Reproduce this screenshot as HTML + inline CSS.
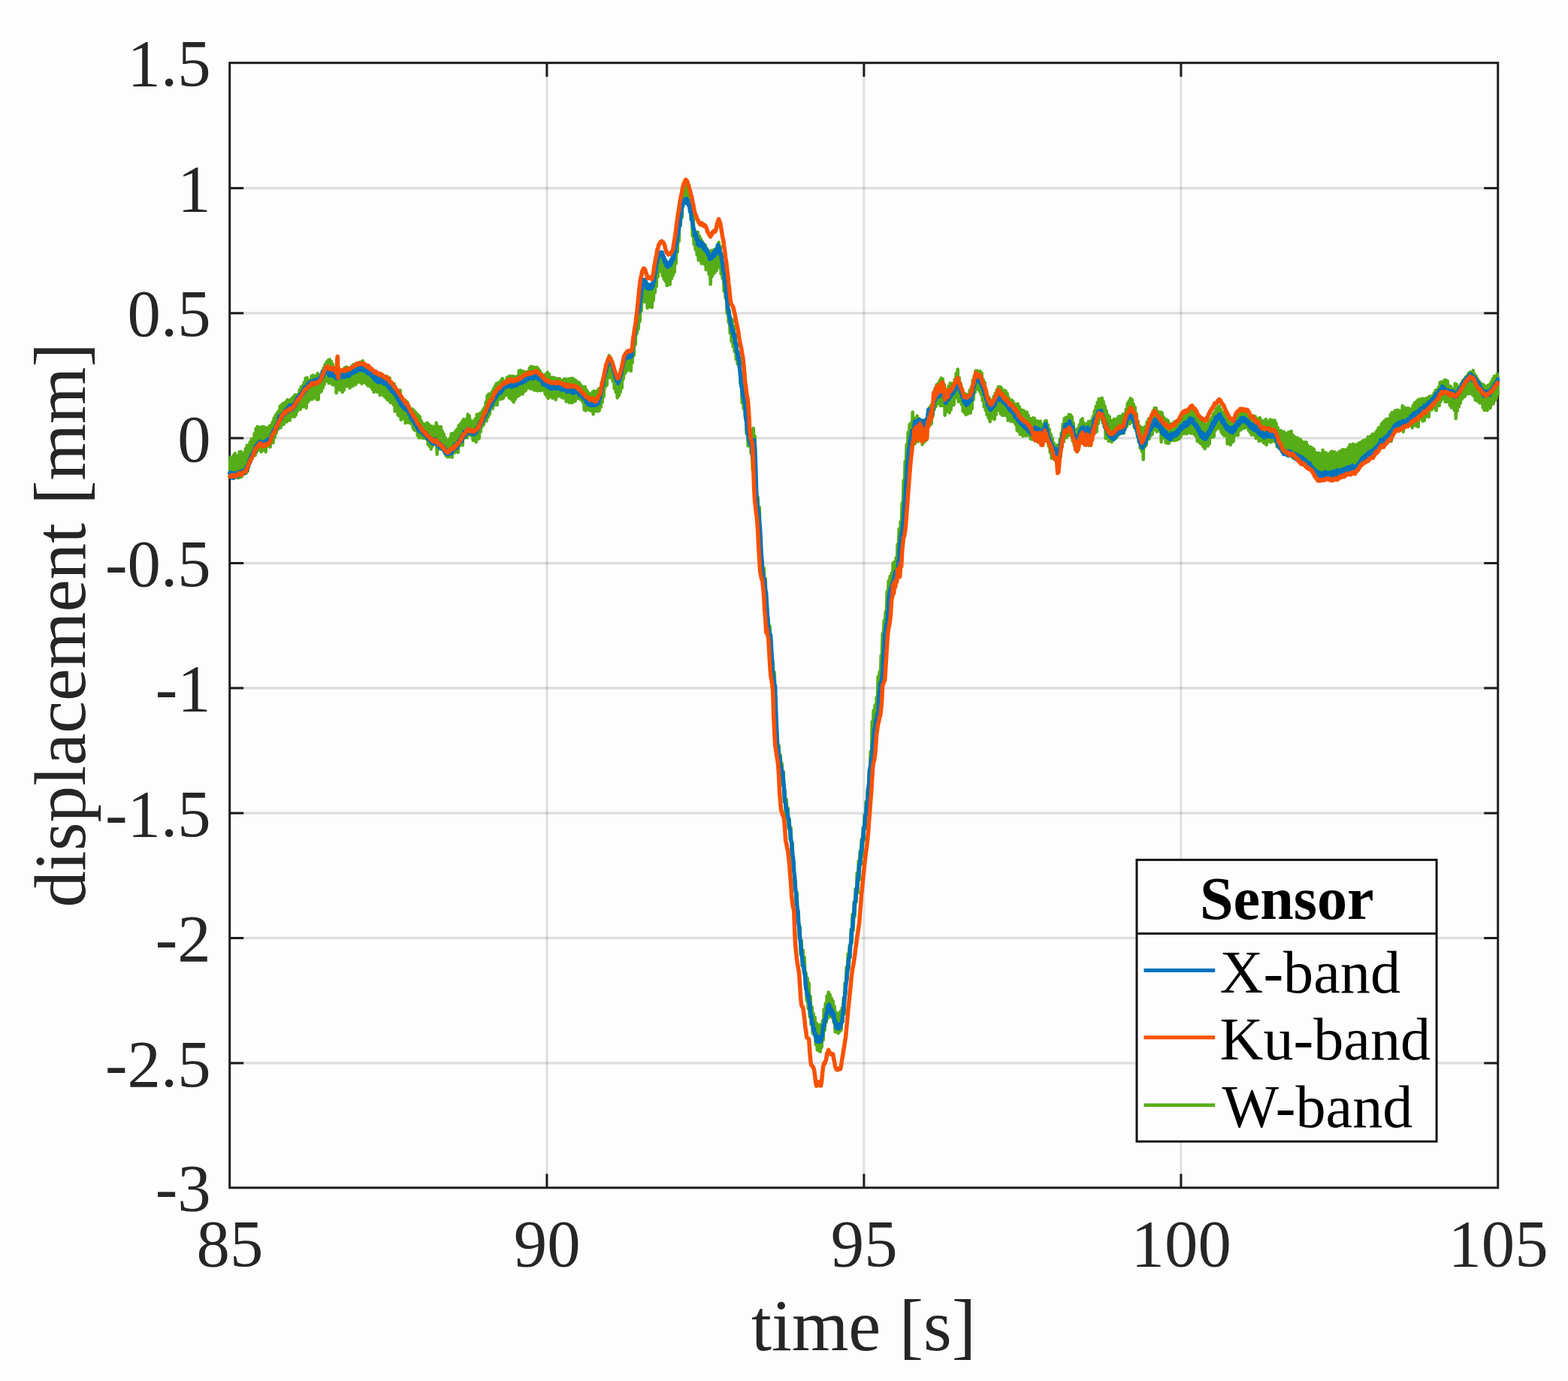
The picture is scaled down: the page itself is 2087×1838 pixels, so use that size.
<!DOCTYPE html>
<html lang="en"><head><meta charset="utf-8"><title>displacement vs time</title>
<style>html,body{margin:0;padding:0;background:#fdfdfd;}body{width:2087px;height:1838px;overflow:hidden;}svg{display:block;}</style>
</head><body>
<svg width="2087" height="1838" viewBox="0 0 2087 1838" role="img" aria-label="displacement versus time for X-band, Ku-band and W-band sensors">
<rect width="2087" height="1838" fill="#fdfdfd"/>
<g stroke="#262626" stroke-opacity="0.14" stroke-width="3.4" fill="none">
<line x1="727.9" y1="83.7" x2="727.9" y2="1580.8" stroke-width="2.9"/>
<line x1="1149.9" y1="83.7" x2="1149.9" y2="1580.8" stroke-width="2.9"/>
<line x1="1571.9" y1="83.7" x2="1571.9" y2="1580.8" stroke-width="2.9"/>
<line x1="305.7" y1="250.4" x2="1993.75" y2="250.4"/>
<line x1="305.7" y1="416.8" x2="1993.75" y2="416.8"/>
<line x1="305.7" y1="583.1" x2="1993.75" y2="583.1"/>
<line x1="305.7" y1="749.5" x2="1993.75" y2="749.5"/>
<line x1="305.7" y1="915.8" x2="1993.75" y2="915.8"/>
<line x1="305.7" y1="1082.2" x2="1993.75" y2="1082.2"/>
<line x1="305.7" y1="1248.5" x2="1993.75" y2="1248.5"/>
<line x1="305.7" y1="1414.9" x2="1993.75" y2="1414.9"/>
</g>
<g stroke="#1c1c1c" stroke-width="3" fill="none">
<rect x="305.7" y="83.7" width="1688.05" height="1497.10"/>
<line x1="727.9" y1="1580.8" x2="727.9" y2="1562.3"/>
<line x1="727.9" y1="83.7" x2="727.9" y2="102.2"/>
<line x1="1149.9" y1="1580.8" x2="1149.9" y2="1562.3"/>
<line x1="1149.9" y1="83.7" x2="1149.9" y2="102.2"/>
<line x1="1571.9" y1="1580.8" x2="1571.9" y2="1562.3"/>
<line x1="1571.9" y1="83.7" x2="1571.9" y2="102.2"/>
<line x1="305.7" y1="250.4" x2="324.2" y2="250.4"/>
<line x1="1993.75" y1="250.4" x2="1975.25" y2="250.4"/>
<line x1="305.7" y1="416.8" x2="324.2" y2="416.8"/>
<line x1="1993.75" y1="416.8" x2="1975.25" y2="416.8"/>
<line x1="305.7" y1="583.1" x2="324.2" y2="583.1"/>
<line x1="1993.75" y1="583.1" x2="1975.25" y2="583.1"/>
<line x1="305.7" y1="749.5" x2="324.2" y2="749.5"/>
<line x1="1993.75" y1="749.5" x2="1975.25" y2="749.5"/>
<line x1="305.7" y1="915.8" x2="324.2" y2="915.8"/>
<line x1="1993.75" y1="915.8" x2="1975.25" y2="915.8"/>
<line x1="305.7" y1="1082.2" x2="324.2" y2="1082.2"/>
<line x1="1993.75" y1="1082.2" x2="1975.25" y2="1082.2"/>
<line x1="305.7" y1="1248.5" x2="324.2" y2="1248.5"/>
<line x1="1993.75" y1="1248.5" x2="1975.25" y2="1248.5"/>
<line x1="305.7" y1="1414.9" x2="324.2" y2="1414.9"/>
<line x1="1993.75" y1="1414.9" x2="1975.25" y2="1414.9"/>
</g>
<clipPath id="c"><rect x="303.2" y="83.7" width="1693.05" height="1497.10"/></clipPath>
<g clip-path="url(#c)" fill="none" stroke-linejoin="round" stroke-linecap="round">
<path stroke="#57ad17" stroke-width="4.5" d="M305.7,631.5 306.7,608.7 307.7,632.2 308.7,609.2 309.7,628.5 310.7,606.3 311.7,632.5 312.7,603.4 313.7,635.1 314.7,606.3 315.7,634.5 316.7,607.3 317.7,635.9 318.7,601.6 319.7,635.1 320.7,600.9 321.7,634.6 322.7,603.1 323.7,629.2 324.7,604.9 325.7,624.4 326.7,597.2 327.7,629.9 328.7,592.8 329.7,627.3 330.7,593.0 331.7,617.2 332.7,588.4 333.7,614.5 334.7,584.2 335.7,610.6 336.7,584.4 337.7,604.6 338.7,577.0 339.7,605.9 340.7,570.4 341.7,601.8 342.7,567.7 343.7,596.1 344.7,568.7 345.7,598.8 346.7,570.5 347.7,601.4 348.7,568.1 349.7,599.5 350.7,568.1 351.7,596.5 352.7,568.9 353.7,601.5 354.7,570.4 355.7,594.1 356.7,569.0 357.7,591.5 358.7,567.0 359.7,595.0 360.7,566.1 361.7,589.6 362.7,561.7 363.7,589.2 364.7,556.4 365.7,582.5 366.7,552.7 367.7,576.4 368.7,549.6 369.7,571.6 370.7,547.2 371.7,569.7 372.7,540.7 373.7,569.1 374.7,538.9 375.7,565.1 376.7,537.1 377.7,564.8 378.7,536.4 379.7,560.2 380.7,534.6 381.7,561.5 382.7,532.0 383.7,557.2 384.7,533.7 385.7,559.6 386.7,532.1 387.7,554.6 388.7,529.9 389.7,550.0 390.7,527.9 391.7,554.8 392.7,525.6 393.7,552.7 394.7,526.4 395.7,547.4 396.7,524.7 397.7,544.0 398.7,519.0 399.7,544.9 400.7,515.0 401.7,540.6 402.7,513.5 403.7,541.4 404.7,508.9 405.7,538.8 406.7,503.4 407.7,542.9 408.7,502.7 409.7,535.2 410.7,506.1 411.7,532.7 412.7,505.8 413.7,528.4 414.7,500.6 415.7,531.5 416.7,499.5 417.7,528.6 418.7,501.6 419.7,529.6 420.7,499.9 421.7,531.6 422.7,497.1 423.7,531.8 424.7,499.8 425.7,522.5 426.7,500.4 427.7,521.0 428.7,494.0 429.7,516.5 430.7,489.7 431.7,512.0 432.7,485.0 433.7,507.5 434.7,481.7 435.7,504.8 436.7,479.5 437.7,510.0 438.7,478.5 439.7,507.8 440.7,480.8 441.7,510.9 442.7,484.4 443.7,512.3 444.7,491.7 445.7,511.9 446.7,489.2 447.7,523.1 448.7,486.6 449.7,513.5 450.7,489.0 451.7,518.9 452.7,494.6 453.7,518.2 454.7,494.1 455.7,521.9 456.7,491.5 457.7,519.5 458.7,489.8 459.7,513.1 460.7,488.5 461.7,514.1 462.7,489.1 463.7,513.5 464.7,490.5 465.7,516.6 466.7,490.4 467.7,512.3 468.7,486.7 469.7,513.8 470.7,485.1 471.7,509.5 472.7,485.1 473.7,511.7 474.7,485.2 475.7,509.0 476.7,484.5 477.7,504.4 478.7,482.5 479.7,509.0 480.7,481.8 481.7,510.7 482.7,480.2 483.7,507.4 484.7,484.6 485.7,509.2 486.7,488.0 487.7,511.0 488.7,486.0 489.7,513.3 490.7,486.4 491.7,513.6 492.7,490.4 493.7,515.3 494.7,492.6 495.7,518.3 496.7,493.0 497.7,521.8 498.7,493.2 499.7,519.2 500.7,496.3 501.7,521.7 502.7,497.8 503.7,521.2 504.7,498.8 505.7,525.8 506.7,499.1 507.7,522.1 508.7,499.7 509.7,525.7 510.7,501.0 511.7,527.7 512.7,501.0 513.7,529.7 514.7,500.7 515.7,532.1 516.7,502.5 517.7,532.8 518.7,503.3 519.7,536.0 520.7,508.9 521.7,534.7 522.7,510.7 523.7,538.7 524.7,510.7 525.7,547.5 526.7,515.1 527.7,546.0 528.7,519.7 529.7,552.5 530.7,519.7 531.7,553.7 532.7,519.6 533.7,558.8 534.7,527.8 535.7,557.4 536.7,532.1 537.7,555.9 538.7,532.6 539.7,563.1 540.7,533.8 541.7,560.3 542.7,535.9 543.7,562.6 544.7,540.7 545.7,562.7 546.7,544.4 547.7,564.2 548.7,544.3 549.7,570.0 550.7,545.9 551.7,572.6 552.7,548.3 553.7,573.0 554.7,550.4 555.7,579.5 556.7,552.6 557.7,582.4 558.7,554.5 559.7,582.5 560.7,560.0 561.7,582.5 562.7,563.4 563.7,583.3 564.7,565.3 565.7,583.0 566.7,564.3 567.7,584.4 568.7,562.8 569.7,591.6 570.7,564.7 571.7,593.8 572.7,566.9 573.7,597.7 574.7,567.3 575.7,593.7 576.7,569.7 577.7,589.5 578.7,567.7 579.7,591.1 580.7,562.8 581.7,604.8 582.7,567.3 583.7,597.7 584.7,571.9 585.7,597.3 586.7,567.9 587.7,598.0 588.7,573.5 589.7,598.3 590.7,577.4 591.7,602.8 592.7,582.6 593.7,606.6 594.7,585.6 595.7,608.2 596.7,586.2 597.7,608.0 598.7,583.5 599.7,605.7 600.7,577.3 601.7,608.6 602.7,577.2 603.7,600.9 604.7,575.9 605.7,602.5 606.7,573.2 607.7,598.8 608.7,571.0 609.7,602.1 610.7,566.5 611.7,593.3 612.7,564.3 613.7,592.1 614.7,561.6 615.7,592.6 616.7,558.3 617.7,583.1 618.7,560.7 619.7,580.1 620.7,557.4 621.7,582.6 622.7,551.5 623.7,578.9 624.7,553.5 625.7,576.4 626.7,559.8 627.7,580.2 628.7,560.4 629.7,586.2 630.7,562.3 631.7,582.2 632.7,557.2 633.7,588.5 634.7,551.6 635.7,584.7 636.7,552.0 637.7,583.6 638.7,550.3 639.7,574.6 640.7,548.9 641.7,567.7 642.7,545.4 643.7,565.5 644.7,542.5 645.7,560.4 646.7,534.9 647.7,560.3 648.7,526.2 649.7,555.1 650.7,524.5 651.7,551.5 652.7,524.1 653.7,543.1 654.7,521.8 655.7,543.8 656.7,517.6 657.7,539.4 658.7,514.0 659.7,535.7 660.7,510.6 661.7,538.9 662.7,510.0 663.7,530.6 664.7,509.0 665.7,531.6 666.7,506.4 667.7,530.6 668.7,503.8 669.7,530.4 670.7,507.0 671.7,526.8 672.7,506.8 673.7,524.3 674.7,502.8 675.7,525.9 676.7,501.4 677.7,529.6 678.7,500.4 679.7,530.8 680.7,500.8 681.7,532.4 682.7,500.8 683.7,535.3 684.7,501.6 685.7,531.6 686.7,501.4 687.7,528.1 688.7,501.1 689.7,527.3 690.7,493.6 691.7,525.8 692.7,492.8 693.7,522.1 694.7,494.1 695.7,524.4 696.7,494.3 697.7,521.1 698.7,495.6 699.7,519.9 700.7,494.7 701.7,516.6 702.7,494.9 703.7,513.4 704.7,489.9 705.7,517.2 706.7,487.8 707.7,517.0 708.7,488.3 709.7,517.8 710.7,488.8 711.7,519.6 712.7,489.2 713.7,514.5 714.7,488.8 715.7,520.3 716.7,490.8 717.7,519.2 718.7,493.4 719.7,520.1 720.7,497.2 721.7,517.3 722.7,500.2 723.7,519.7 724.7,499.2 725.7,524.6 726.7,497.8 727.7,527.0 728.7,495.6 729.7,530.3 730.7,497.7 731.7,526.4 732.7,502.8 733.7,528.2 734.7,502.3 735.7,530.0 736.7,502.7 737.7,527.5 738.7,502.9 739.7,531.9 740.7,504.9 741.7,525.7 742.7,504.0 743.7,527.5 744.7,504.0 745.7,525.6 746.7,506.0 747.7,528.8 748.7,506.1 749.7,529.7 750.7,504.5 751.7,529.1 752.7,504.4 753.7,534.4 754.7,505.1 755.7,531.2 756.7,504.6 757.7,535.7 758.7,504.3 759.7,535.4 760.7,503.4 761.7,536.1 762.7,503.8 763.7,533.1 764.7,505.4 765.7,534.0 766.7,506.6 767.7,529.4 768.7,508.7 769.7,530.3 770.7,508.9 771.7,531.1 772.7,512.0 773.7,532.4 774.7,514.2 775.7,535.4 776.7,515.9 777.7,545.5 778.7,514.8 779.7,546.5 780.7,518.7 781.7,542.2 782.7,522.0 783.7,545.5 784.7,524.1 785.7,546.5 786.7,525.8 787.7,547.1 788.7,521.8 789.7,551.3 790.7,520.5 791.7,546.9 792.7,521.0 793.7,546.9 794.7,520.6 795.7,547.3 796.7,517.6 797.7,546.4 798.7,516.7 799.7,541.9 800.7,509.1 801.7,535.8 802.7,502.8 803.7,527.9 804.7,497.1 805.7,514.9 806.7,486.3 807.7,512.7 808.7,478.2 809.7,502.6 810.7,473.2 811.7,502.6 812.7,476.9 813.7,503.0 814.7,481.6 815.7,507.3 816.7,487.9 817.7,516.8 818.7,494.8 819.7,521.8 820.7,500.3 821.7,529.4 822.7,501.7 823.7,526.6 824.7,496.8 825.7,522.0 826.7,491.9 827.7,516.5 828.7,485.0 829.7,504.2 830.7,475.7 831.7,497.3 832.7,471.4 833.7,494.3 834.7,471.2 835.7,492.4 836.7,471.6 837.7,492.2 838.7,469.7 839.7,493.8 840.7,468.2 841.7,482.6 842.7,450.2 843.7,473.3 844.7,436.8 845.7,458.8 846.7,422.9 847.7,443.9 848.7,412.9 849.7,437.9 850.7,409.9 851.7,427.7 852.7,396.1 853.7,413.6 854.7,382.0 855.7,399.7 856.7,373.6 857.7,401.4 858.7,376.5 859.7,401.5 860.7,379.6 861.7,410.0 862.7,380.8 863.7,408.2 864.7,379.4 865.7,408.3 866.7,378.6 867.7,409.2 868.7,379.5 869.7,400.0 870.7,372.5 871.7,389.5 872.7,358.9 873.7,381.4 874.7,346.6 875.7,368.3 876.7,338.4 877.7,361.2 878.7,338.3 879.7,358.5 880.7,336.7 881.7,366.9 882.7,340.2 883.7,371.6 884.7,347.6 885.7,374.3 886.7,350.0 887.7,380.1 888.7,354.2 889.7,377.9 890.7,351.0 891.7,378.8 892.7,346.3 893.7,371.1 894.7,344.3 895.7,366.7 896.7,338.2 897.7,362.3 898.7,327.2 899.7,350.8 900.7,313.9 901.7,335.8 902.7,296.7 903.7,321.2 904.7,279.3 905.7,300.4 906.7,265.8 907.7,289.4 908.7,255.4 909.7,271.3 910.7,248.3 911.7,265.0 912.7,240.5 913.7,262.6 914.7,243.1 915.7,271.4 916.7,248.4 917.7,278.4 918.7,259.0 919.7,292.6 920.7,270.8 921.7,314.3 922.7,288.8 923.7,325.2 924.7,308.4 925.7,332.3 926.7,309.9 927.7,339.1 928.7,308.8 929.7,346.2 930.7,313.9 931.7,346.5 932.7,317.5 933.7,350.7 934.7,321.2 935.7,350.0 936.7,325.7 937.7,352.0 938.7,326.0 939.7,359.0 940.7,330.7 941.7,357.9 942.7,336.7 943.7,365.0 944.7,336.7 945.7,378.4 946.7,333.4 947.7,368.1 948.7,333.5 949.7,364.4 950.7,332.0 951.7,362.4 952.7,333.8 953.7,360.1 954.7,326.1 955.7,349.6 956.7,322.5 957.7,355.4 958.7,327.9 959.7,364.8 960.7,338.8 961.7,370.6 962.7,351.4 963.7,387.6 964.7,365.6 965.7,397.0 966.7,378.4 967.7,417.0 968.7,396.8 969.7,428.9 970.7,412.8 971.7,443.1 972.7,422.9 973.7,454.6 974.7,425.8 975.7,461.2 976.7,434.1 977.7,467.8 978.7,444.0 979.7,477.9 980.7,457.2 981.7,484.5 982.7,468.3 983.7,488.5 984.7,482.6 985.7,511.5 986.7,496.3 987.7,536.1 988.7,509.4 989.7,543.9 990.7,518.5 991.7,553.9 992.7,538.5 993.7,577.4 994.7,560.6 995.7,593.5 996.7,568.8 997.7,592.3 998.7,572.4 999.7,603.3 1000.7,576.5 1001.7,625.5 1002.7,570.0 1003.7,597.4 1004.7,580.6 1005.7,631.8 1006.7,638.3 1007.7,680.3 1008.7,662.0 1009.7,693.9 1010.7,674.9 1011.7,718.3 1012.7,711.2 1013.7,752.7 1014.7,746.3 1015.7,778.1 1016.7,755.9 1017.7,788.6 1018.7,770.1 1019.7,804.6 1020.7,797.4 1021.7,836.1 1022.7,823.3 1023.7,857.0 1024.7,833.3 1025.7,860.9 1026.7,852.3 1027.7,892.7 1028.7,881.2 1029.7,912.8 1030.7,894.8 1031.7,924.9 1032.7,932.4 1033.7,979.2 1034.7,979.0 1035.7,1006.5 1036.7,992.3 1037.7,1020.7 1038.7,1005.1 1039.7,1032.2 1040.7,1016.1 1041.7,1045.1 1042.7,1027.0 1043.7,1066.7 1044.7,1052.5 1045.7,1087.2 1046.7,1064.1 1047.7,1090.7 1048.7,1075.5 1049.7,1102.3 1050.7,1090.6 1051.7,1117.2 1052.7,1101.8 1053.7,1141.7 1054.7,1121.4 1055.7,1154.3 1056.7,1147.7 1057.7,1181.2 1058.7,1172.8 1059.7,1202.4 1060.7,1187.6 1061.7,1224.6 1062.7,1212.6 1063.7,1248.1 1064.7,1233.0 1065.7,1269.9 1066.7,1251.8 1067.7,1285.4 1068.7,1264.4 1069.7,1294.1 1070.7,1274.0 1071.7,1310.3 1072.7,1295.1 1073.7,1331.5 1074.7,1301.7 1075.7,1342.3 1076.7,1308.6 1077.7,1353.2 1078.7,1325.9 1079.7,1363.4 1080.7,1340.2 1081.7,1375.0 1082.7,1349.1 1083.7,1377.1 1084.7,1354.0 1085.7,1390.0 1086.7,1361.8 1087.7,1397.1 1088.7,1364.8 1089.7,1398.6 1090.7,1364.1 1091.7,1399.6 1092.7,1368.5 1093.7,1394.0 1094.7,1359.1 1095.7,1384.2 1096.7,1343.4 1097.7,1371.2 1098.7,1335.8 1099.7,1360.7 1100.7,1325.4 1101.7,1355.2 1102.7,1320.6 1103.7,1349.3 1104.7,1323.9 1105.7,1353.1 1106.7,1328.4 1107.7,1354.3 1108.7,1332.2 1109.7,1360.7 1110.7,1339.4 1111.7,1373.4 1112.7,1347.6 1113.7,1371.8 1114.7,1350.2 1115.7,1375.3 1116.7,1348.4 1117.7,1372.9 1118.7,1346.0 1119.7,1371.0 1120.7,1341.5 1121.7,1359.7 1122.7,1327.8 1123.7,1349.5 1124.7,1308.1 1125.7,1322.8 1126.7,1287.0 1127.7,1303.0 1128.7,1269.6 1129.7,1288.6 1130.7,1258.8 1131.7,1274.1 1132.7,1236.9 1133.7,1255.2 1134.7,1216.9 1135.7,1238.2 1136.7,1200.5 1137.7,1219.5 1138.7,1182.7 1139.7,1200.8 1140.7,1162.1 1141.7,1188.5 1142.7,1146.0 1143.7,1171.3 1144.7,1132.8 1145.7,1150.7 1146.7,1116.7 1147.7,1140.0 1148.7,1101.2 1149.7,1118.9 1150.7,1084.7 1151.7,1103.3 1152.7,1066.9 1153.7,1082.2 1154.7,1050.5 1155.7,1064.2 1156.7,1025.5 1157.7,1041.6 1158.7,1000.2 1159.7,1031.2 1160.7,960.4 1161.7,983.3 1162.7,945.6 1163.7,967.7 1164.7,938.6 1165.7,963.8 1166.7,928.3 1167.7,939.8 1168.7,900.4 1169.7,923.5 1170.7,893.9 1171.7,916.1 1172.7,872.4 1173.7,878.9 1174.7,843.1 1175.7,851.9 1176.7,825.8 1177.7,841.6 1178.7,814.0 1179.7,822.9 1180.7,787.5 1181.7,799.4 1182.7,773.0 1183.7,800.3 1184.7,767.1 1185.7,793.9 1186.7,762.8 1187.7,780.9 1188.7,749.5 1189.7,774.4 1190.7,747.8 1191.7,776.5 1192.7,742.2 1193.7,757.8 1194.7,724.4 1195.7,730.8 1196.7,704.1 1197.7,726.3 1198.7,694.3 1199.7,705.9 1200.7,669.5 1201.7,679.3 1202.7,639.2 1203.7,657.9 1204.7,613.9 1205.7,626.9 1206.7,591.7 1207.7,611.3 1208.7,575.6 1209.7,598.0 1210.7,564.7 1211.7,593.3 1212.7,563.0 1213.7,583.0 1214.7,548.5 1215.7,579.8 1216.7,558.4 1217.7,590.7 1218.7,556.4 1219.7,587.6 1220.7,553.6 1221.7,587.7 1222.7,556.9 1223.7,583.9 1224.7,559.1 1225.7,586.2 1226.7,560.1 1227.7,591.8 1228.7,560.2 1229.7,588.5 1230.7,559.9 1231.7,587.0 1232.7,557.7 1233.7,585.1 1234.7,550.4 1235.7,567.6 1236.7,543.0 1237.7,565.6 1238.7,540.1 1239.7,564.2 1240.7,536.8 1241.7,553.7 1242.7,521.7 1243.7,544.9 1244.7,516.9 1245.7,541.0 1246.7,512.1 1247.7,537.5 1248.7,510.3 1249.7,536.1 1250.7,506.5 1251.7,539.9 1252.7,503.3 1253.7,539.9 1254.7,504.4 1255.7,539.2 1256.7,511.4 1257.7,552.8 1258.7,520.6 1259.7,548.0 1260.7,518.6 1261.7,545.4 1262.7,513.9 1263.7,549.4 1264.7,509.9 1265.7,545.4 1266.7,510.9 1267.7,539.5 1268.7,510.5 1269.7,538.7 1270.7,504.9 1271.7,529.4 1272.7,496.8 1273.7,527.0 1274.7,491.4 1275.7,534.6 1276.7,502.7 1277.7,532.4 1278.7,510.3 1279.7,538.1 1280.7,517.5 1281.7,547.3 1282.7,524.8 1283.7,549.2 1284.7,524.3 1285.7,551.9 1286.7,525.1 1287.7,551.1 1288.7,525.7 1289.7,546.6 1290.7,519.2 1291.7,549.7 1292.7,515.5 1293.7,544.5 1294.7,506.3 1295.7,532.2 1296.7,500.3 1297.7,522.3 1298.7,493.5 1299.7,515.1 1300.7,493.4 1301.7,518.1 1302.7,496.3 1303.7,520.8 1304.7,494.1 1305.7,525.0 1306.7,496.6 1307.7,533.0 1308.7,505.1 1309.7,541.2 1310.7,509.1 1311.7,546.0 1312.7,518.6 1313.7,552.1 1314.7,527.3 1315.7,556.3 1316.7,529.5 1317.7,561.2 1318.7,533.2 1319.7,557.3 1320.7,532.6 1321.7,554.3 1322.7,527.6 1323.7,558.2 1324.7,523.5 1325.7,552.0 1326.7,519.1 1327.7,543.1 1328.7,514.9 1329.7,546.3 1330.7,514.7 1331.7,550.4 1332.7,516.0 1333.7,552.5 1334.7,519.5 1335.7,553.0 1336.7,519.6 1337.7,552.1 1338.7,520.6 1339.7,553.4 1340.7,524.0 1341.7,559.7 1342.7,529.5 1343.7,557.4 1344.7,533.2 1345.7,560.7 1346.7,532.4 1347.7,560.5 1348.7,534.7 1349.7,561.5 1350.7,538.0 1351.7,564.7 1352.7,538.1 1353.7,573.0 1354.7,537.4 1355.7,573.9 1356.7,541.3 1357.7,578.1 1358.7,545.2 1359.7,575.3 1360.7,546.1 1361.7,580.6 1362.7,546.4 1363.7,579.3 1364.7,550.1 1365.7,579.8 1366.7,548.5 1367.7,579.5 1368.7,553.1 1369.7,579.3 1370.7,557.0 1371.7,584.0 1372.7,559.6 1373.7,585.0 1374.7,556.3 1375.7,584.1 1376.7,556.5 1377.7,584.1 1378.7,560.1 1379.7,583.2 1380.7,560.4 1381.7,588.4 1382.7,561.5 1383.7,586.8 1384.7,560.4 1385.7,592.4 1386.7,564.8 1387.7,591.0 1388.7,567.0 1389.7,584.6 1390.7,560.4 1391.7,578.9 1392.7,559.9 1393.7,587.5 1394.7,565.6 1395.7,593.7 1396.7,571.4 1397.7,601.9 1398.7,578.1 1399.7,610.0 1400.7,583.2 1401.7,609.3 1402.7,589.8 1403.7,612.1 1404.7,593.1 1405.7,611.9 1406.7,592.5 1407.7,619.2 1408.7,602.2 1409.7,615.7 1410.7,584.8 1411.7,608.0 1412.7,576.3 1413.7,595.2 1414.7,564.4 1415.7,588.3 1416.7,556.9 1417.7,579.4 1418.7,555.5 1419.7,582.4 1420.7,556.1 1421.7,578.8 1422.7,551.7 1423.7,579.2 1424.7,552.0 1425.7,579.8 1426.7,554.4 1427.7,586.9 1428.7,563.1 1429.7,592.4 1430.7,571.9 1431.7,599.5 1432.7,572.4 1433.7,601.0 1434.7,570.0 1435.7,598.6 1436.7,565.3 1437.7,590.3 1438.7,559.1 1439.7,588.9 1440.7,557.3 1441.7,585.0 1442.7,562.9 1443.7,590.1 1444.7,568.8 1445.7,590.3 1446.7,564.0 1447.7,582.8 1448.7,561.1 1449.7,593.1 1450.7,563.8 1451.7,592.8 1452.7,559.6 1453.7,582.1 1454.7,554.3 1455.7,576.7 1456.7,547.1 1457.7,575.8 1458.7,541.1 1459.7,574.6 1460.7,535.4 1461.7,564.0 1462.7,530.8 1463.7,557.7 1464.7,532.1 1465.7,558.0 1466.7,529.7 1467.7,562.8 1468.7,534.6 1469.7,568.0 1470.7,540.8 1471.7,583.4 1472.7,546.7 1473.7,581.4 1474.7,552.3 1475.7,587.1 1476.7,554.6 1477.7,586.9 1478.7,560.1 1479.7,588.3 1480.7,561.2 1481.7,584.0 1482.7,557.8 1483.7,582.5 1484.7,559.8 1485.7,582.9 1486.7,557.6 1487.7,580.5 1488.7,554.5 1489.7,576.0 1490.7,554.1 1491.7,577.2 1492.7,554.1 1493.7,575.7 1494.7,551.2 1495.7,576.7 1496.7,551.8 1497.7,570.4 1498.7,545.1 1499.7,567.8 1500.7,537.0 1501.7,557.7 1502.7,533.4 1503.7,563.9 1504.7,530.3 1505.7,557.8 1506.7,531.9 1507.7,562.3 1508.7,537.7 1509.7,569.0 1510.7,542.1 1511.7,570.0 1512.7,550.8 1513.7,577.9 1514.7,560.5 1515.7,587.8 1516.7,566.7 1517.7,596.3 1518.7,568.8 1519.7,600.5 1520.7,569.9 1521.7,611.6 1522.7,568.9 1523.7,595.0 1524.7,567.6 1525.7,592.4 1526.7,561.4 1527.7,585.0 1528.7,557.7 1529.7,583.9 1530.7,557.7 1531.7,579.7 1532.7,551.5 1533.7,578.3 1534.7,546.7 1535.7,568.5 1536.7,543.2 1537.7,572.0 1538.7,543.0 1539.7,574.6 1540.7,547.3 1541.7,571.6 1542.7,549.7 1543.7,573.9 1544.7,548.6 1545.7,588.2 1546.7,549.5 1547.7,581.9 1548.7,555.3 1549.7,582.8 1550.7,557.6 1551.7,589.1 1552.7,558.6 1553.7,589.7 1554.7,560.1 1555.7,590.1 1556.7,564.1 1557.7,586.9 1558.7,564.8 1559.7,585.9 1560.7,564.4 1561.7,585.9 1562.7,561.6 1563.7,586.3 1564.7,561.1 1565.7,585.8 1566.7,560.0 1567.7,584.8 1568.7,557.9 1569.7,583.9 1570.7,555.1 1571.7,581.2 1572.7,550.5 1573.7,575.7 1574.7,549.2 1575.7,577.3 1576.7,550.5 1577.7,574.9 1578.7,549.6 1579.7,577.4 1580.7,546.5 1581.7,573.5 1582.7,547.0 1583.7,575.8 1584.7,544.2 1585.7,576.7 1586.7,544.7 1587.7,573.7 1588.7,549.6 1589.7,578.3 1590.7,550.4 1591.7,580.3 1592.7,550.7 1593.7,587.1 1594.7,555.1 1595.7,588.1 1596.7,557.0 1597.7,589.9 1598.7,561.5 1599.7,591.3 1600.7,561.9 1601.7,594.6 1602.7,561.4 1603.7,597.2 1604.7,565.4 1605.7,592.0 1606.7,564.7 1607.7,593.6 1608.7,558.6 1609.7,590.6 1610.7,560.1 1611.7,581.5 1612.7,555.9 1613.7,581.8 1614.7,551.6 1615.7,581.3 1616.7,549.1 1617.7,572.7 1618.7,544.5 1619.7,570.5 1620.7,542.1 1621.7,568.1 1622.7,540.6 1623.7,570.8 1624.7,544.2 1625.7,575.4 1626.7,547.8 1627.7,577.9 1628.7,548.7 1629.7,579.9 1630.7,554.1 1631.7,579.7 1632.7,555.6 1633.7,590.8 1634.7,556.4 1635.7,587.2 1636.7,559.3 1637.7,592.2 1638.7,562.9 1639.7,589.0 1640.7,564.4 1641.7,587.3 1642.7,560.3 1643.7,579.8 1644.7,557.3 1645.7,578.3 1646.7,551.1 1647.7,579.3 1648.7,547.9 1649.7,572.6 1650.7,548.5 1651.7,572.2 1652.7,546.9 1653.7,569.9 1654.7,549.2 1655.7,569.9 1656.7,545.4 1657.7,569.0 1658.7,547.1 1659.7,568.8 1660.7,549.4 1661.7,572.7 1662.7,553.3 1663.7,575.4 1664.7,554.7 1665.7,578.8 1666.7,553.2 1667.7,576.2 1668.7,553.8 1669.7,579.2 1670.7,554.3 1671.7,583.3 1672.7,556.9 1673.7,582.2 1674.7,558.0 1675.7,587.1 1676.7,555.9 1677.7,586.4 1678.7,559.2 1679.7,583.9 1680.7,562.5 1681.7,589.2 1682.7,560.3 1683.7,590.1 1684.7,558.1 1685.7,592.3 1686.7,560.3 1687.7,586.3 1688.7,561.3 1689.7,587.8 1690.7,558.4 1691.7,588.6 1692.7,559.2 1693.7,584.1 1694.7,559.8 1695.7,587.1 1696.7,559.6 1697.7,588.5 1698.7,563.6 1699.7,594.5 1700.7,569.1 1701.7,594.7 1702.7,573.8 1703.7,597.6 1704.7,573.0 1705.7,600.7 1706.7,575.4 1707.7,603.2 1708.7,574.6 1709.7,602.6 1710.7,576.4 1711.7,599.7 1712.7,579.4 1713.7,606.5 1714.7,575.4 1715.7,603.3 1716.7,575.1 1717.7,603.7 1718.7,574.0 1719.7,606.1 1720.7,579.1 1721.7,610.1 1722.7,581.1 1723.7,608.9 1724.7,583.4 1725.7,609.8 1726.7,582.5 1727.7,610.8 1728.7,586.1 1729.7,611.0 1730.7,584.4 1731.7,618.2 1732.7,587.2 1733.7,613.0 1734.7,590.7 1735.7,613.0 1736.7,588.5 1737.7,612.0 1738.7,588.7 1739.7,612.8 1740.7,592.8 1741.7,616.9 1742.7,595.1 1743.7,622.7 1744.7,594.9 1745.7,622.0 1746.7,596.6 1747.7,626.6 1748.7,597.7 1749.7,624.3 1750.7,601.9 1751.7,627.1 1752.7,603.1 1753.7,624.5 1754.7,603.0 1755.7,627.8 1756.7,603.7 1757.7,629.0 1758.7,603.6 1759.7,637.1 1760.7,599.0 1761.7,634.3 1762.7,602.4 1763.7,633.4 1764.7,602.4 1765.7,630.7 1766.7,604.0 1767.7,625.0 1768.7,605.4 1769.7,625.3 1770.7,602.2 1771.7,627.4 1772.7,600.8 1773.7,634.0 1774.7,601.4 1775.7,632.5 1776.7,601.7 1777.7,633.2 1778.7,604.2 1779.7,627.8 1780.7,603.1 1781.7,626.9 1782.7,600.9 1783.7,626.7 1784.7,600.3 1785.7,628.7 1786.7,598.6 1787.7,627.6 1788.7,598.4 1789.7,623.9 1790.7,598.7 1791.7,629.3 1792.7,598.4 1793.7,622.4 1794.7,595.4 1795.7,627.3 1796.7,592.1 1797.7,620.8 1798.7,593.6 1799.7,627.1 1800.7,591.0 1801.7,625.3 1802.7,591.7 1803.7,623.0 1804.7,591.9 1805.7,619.8 1806.7,591.7 1807.7,614.2 1808.7,589.4 1809.7,613.5 1810.7,589.0 1811.7,610.6 1812.7,587.7 1813.7,613.8 1814.7,586.2 1815.7,610.6 1816.7,586.0 1817.7,608.4 1818.7,584.9 1819.7,609.5 1820.7,581.5 1821.7,606.0 1822.7,583.9 1823.7,601.5 1824.7,580.3 1825.7,605.7 1826.7,577.8 1827.7,599.6 1828.7,579.4 1829.7,595.6 1830.7,576.0 1831.7,593.3 1832.7,573.2 1833.7,599.9 1834.7,569.5 1835.7,595.4 1836.7,568.5 1837.7,595.6 1838.7,564.6 1839.7,595.8 1840.7,562.1 1841.7,590.9 1842.7,560.2 1843.7,585.0 1844.7,557.9 1845.7,589.9 1846.7,557.7 1847.7,587.7 1848.7,557.4 1849.7,584.0 1850.7,552.0 1851.7,587.2 1852.7,549.1 1853.7,580.5 1854.7,549.4 1855.7,575.6 1856.7,546.6 1857.7,568.0 1858.7,545.9 1859.7,572.8 1860.7,545.7 1861.7,571.0 1862.7,548.2 1863.7,571.1 1864.7,546.4 1865.7,571.5 1866.7,540.1 1867.7,574.8 1868.7,542.1 1869.7,569.3 1870.7,546.8 1871.7,567.3 1872.7,543.3 1873.7,568.2 1874.7,543.3 1875.7,565.3 1876.7,546.5 1877.7,566.5 1878.7,544.2 1879.7,569.5 1880.7,540.1 1881.7,566.4 1882.7,536.3 1883.7,564.8 1884.7,535.1 1885.7,567.3 1886.7,532.9 1887.7,568.0 1888.7,531.5 1889.7,556.5 1890.7,532.4 1891.7,558.0 1892.7,530.5 1893.7,560.6 1894.7,530.7 1895.7,559.8 1896.7,531.5 1897.7,555.0 1898.7,530.0 1899.7,550.3 1900.7,529.6 1901.7,554.9 1902.7,527.3 1903.7,545.2 1904.7,528.2 1905.7,545.4 1906.7,526.7 1907.7,543.1 1908.7,523.2 1909.7,543.8 1910.7,519.4 1911.7,546.4 1912.7,518.9 1913.7,539.3 1914.7,515.3 1915.7,539.9 1916.7,509.1 1917.7,534.3 1918.7,508.3 1919.7,527.4 1920.7,508.4 1921.7,531.2 1922.7,505.8 1923.7,534.8 1924.7,506.0 1925.7,534.6 1926.7,507.3 1927.7,534.8 1928.7,513.8 1929.7,539.5 1930.7,514.0 1931.7,542.5 1932.7,517.1 1933.7,542.5 1934.7,517.6 1935.7,546.0 1936.7,510.5 1937.7,557.0 1938.7,511.5 1939.7,547.2 1940.7,514.7 1941.7,541.5 1942.7,514.1 1943.7,536.9 1944.7,511.0 1945.7,531.4 1946.7,507.0 1947.7,529.1 1948.7,505.0 1949.7,527.6 1950.7,502.2 1951.7,524.9 1952.7,499.9 1953.7,522.9 1954.7,496.7 1955.7,523.9 1956.7,495.3 1957.7,519.3 1958.7,495.5 1959.7,525.3 1960.7,493.0 1961.7,527.3 1962.7,497.9 1963.7,532.4 1964.7,500.8 1965.7,532.9 1966.7,504.3 1967.7,534.8 1968.7,507.4 1969.7,536.3 1970.7,510.1 1971.7,535.9 1972.7,511.5 1973.7,542.4 1974.7,512.1 1975.7,546.0 1976.7,513.9 1977.7,543.9 1978.7,515.2 1979.7,546.3 1980.7,512.8 1981.7,543.2 1982.7,511.8 1983.7,542.9 1984.7,508.6 1985.7,538.3 1986.7,504.6 1987.7,537.2 1988.7,500.8 1989.7,533.2 1990.7,501.4 1991.7,529.8 1992.7,497.7 1993.7,524.7"/>
<path stroke="#0072bd" stroke-width="5.3" d="M305.7,629.7 306.7,633.4 307.7,628.9 308.7,635.9 309.7,631.4 310.7,636.4 311.7,629.6 312.7,634.9 313.7,630.2 314.7,634.9 315.7,629.6 316.7,633.5 317.7,628.5 318.7,631.9 319.7,628.0 320.7,631.3 321.7,627.1 322.7,630.9 323.7,626.4 324.7,630.5 325.7,625.2 326.7,628.2 327.7,621.9 328.7,626.1 329.7,619.5 330.7,621.6 331.7,613.3 332.7,616.0 333.7,607.3 334.7,610.5 335.7,604.0 336.7,605.7 337.7,600.1 338.7,602.6 339.7,594.7 340.7,598.3 341.7,592.0 342.7,594.8 343.7,589.8 344.7,591.6 345.7,587.6 346.7,591.4 347.7,587.9 348.7,592.2 349.7,588.5 350.7,593.0 351.7,588.7 352.7,593.1 353.7,587.1 354.7,591.1 355.7,585.5 356.7,590.0 357.7,584.5 358.7,588.3 359.7,583.1 360.7,584.8 361.7,577.7 362.7,580.7 363.7,573.1 364.7,576.1 365.7,570.5 366.7,572.6 367.7,566.1 368.7,569.7 369.7,561.8 370.7,562.9 371.7,553.9 372.7,558.5 373.7,552.7 374.7,557.4 375.7,551.6 376.7,553.4 377.7,548.9 378.7,552.0 379.7,545.8 380.7,549.9 381.7,544.3 382.7,548.7 383.7,541.9 384.7,545.3 385.7,539.1 386.7,546.1 387.7,540.7 388.7,545.5 389.7,539.1 390.7,542.8 391.7,537.1 392.7,540.5 393.7,533.3 394.7,537.2 395.7,529.1 396.7,532.8 397.7,527.2 398.7,530.0 399.7,525.1 400.7,527.8 401.7,521.9 402.7,525.6 403.7,518.3 404.7,522.4 405.7,515.3 406.7,519.9 407.7,514.4 408.7,516.7 409.7,511.0 410.7,515.1 411.7,509.5 412.7,512.9 413.7,508.2 414.7,512.0 415.7,507.5 416.7,511.0 417.7,505.9 418.7,511.9 419.7,507.0 420.7,511.1 421.7,505.1 422.7,509.7 423.7,504.8 424.7,507.6 425.7,502.4 426.7,506.6 427.7,498.5 428.7,502.6 429.7,494.1 430.7,499.8 431.7,492.8 432.7,496.0 433.7,488.7 434.7,495.1 435.7,491.0 436.7,497.6 437.7,493.3 438.7,500.1 439.7,494.1 440.7,500.0 441.7,493.1 442.7,499.2 443.7,493.4 444.7,500.8 445.7,495.8 446.7,503.1 447.7,498.0 448.7,504.2 449.7,498.6 450.7,501.3 451.7,496.4 452.7,502.2 453.7,498.1 454.7,502.2 455.7,497.7 456.7,501.1 457.7,498.5 458.7,501.9 459.7,496.0 460.7,499.2 461.7,496.7 462.7,500.6 463.7,495.8 464.7,500.5 465.7,494.9 466.7,498.0 467.7,490.8 468.7,496.2 469.7,492.7 470.7,496.5 471.7,491.0 472.7,493.3 473.7,489.5 474.7,494.4 475.7,488.2 476.7,492.9 477.7,487.4 478.7,490.7 479.7,487.4 480.7,492.2 481.7,489.0 482.7,492.9 483.7,488.2 484.7,493.4 485.7,487.2 486.7,493.7 487.7,491.0 488.7,496.5 489.7,492.9 490.7,497.2 491.7,493.4 492.7,498.3 493.7,495.3 494.7,500.4 495.7,498.0 496.7,502.8 497.7,498.6 498.7,505.6 499.7,499.6 500.7,506.6 501.7,502.3 502.7,508.7 503.7,504.2 504.7,508.8 505.7,504.3 506.7,508.0 507.7,504.1 508.7,509.1 509.7,504.7 510.7,510.3 511.7,506.6 512.7,511.1 513.7,507.1 514.7,511.7 515.7,508.1 516.7,514.8 517.7,510.5 518.7,517.5 519.7,512.8 520.7,520.3 521.7,515.1 522.7,521.5 523.7,518.2 524.7,523.8 525.7,520.3 526.7,525.7 527.7,523.2 528.7,530.5 529.7,526.2 530.7,533.6 531.7,528.3 532.7,537.7 533.7,534.8 534.7,540.3 535.7,535.6 536.7,542.2 537.7,539.0 538.7,544.4 539.7,539.9 540.7,545.6 541.7,542.3 542.7,547.2 543.7,544.6 544.7,551.5 545.7,548.6 546.7,556.2 547.7,552.1 548.7,559.3 549.7,555.8 550.7,561.3 551.7,558.8 552.7,565.7 553.7,561.7 554.7,568.4 555.7,565.1 556.7,572.1 557.7,569.2 558.7,574.4 559.7,570.8 560.7,574.6 561.7,572.1 562.7,576.8 563.7,574.7 564.7,579.3 565.7,576.4 566.7,580.6 567.7,576.9 568.7,583.6 569.7,579.5 570.7,584.9 571.7,581.6 572.7,587.6 573.7,585.2 574.7,589.7 575.7,584.5 576.7,590.9 577.7,585.7 578.7,590.5 579.7,584.3 580.7,590.8 581.7,587.3 582.7,593.3 583.7,589.3 584.7,595.4 585.7,590.0 586.7,596.8 587.7,592.2 588.7,597.2 589.7,593.9 590.7,599.8 591.7,595.8 592.7,603.4 593.7,598.7 594.7,604.4 595.7,600.9 596.7,604.9 597.7,599.5 598.7,603.0 599.7,598.8 600.7,603.5 601.7,597.6 602.7,600.6 603.7,594.9 604.7,598.4 605.7,591.4 606.7,597.1 607.7,590.9 608.7,595.4 609.7,587.8 610.7,591.1 611.7,584.8 612.7,588.1 613.7,581.7 614.7,587.4 615.7,579.1 616.7,582.7 617.7,574.6 618.7,580.8 619.7,574.1 620.7,577.4 621.7,571.2 622.7,574.1 623.7,571.1 624.7,576.6 625.7,572.7 626.7,576.8 627.7,573.1 628.7,577.4 629.7,573.8 630.7,578.5 631.7,574.0 632.7,577.0 633.7,571.2 634.7,574.2 635.7,568.6 636.7,570.6 637.7,563.7 638.7,567.5 639.7,560.8 640.7,563.5 641.7,557.3 642.7,560.6 643.7,554.0 644.7,556.5 645.7,550.5 646.7,552.6 647.7,546.1 648.7,548.1 649.7,541.8 650.7,545.3 651.7,539.3 652.7,540.6 653.7,534.3 654.7,538.6 655.7,531.3 656.7,534.2 657.7,526.8 658.7,531.2 659.7,525.7 660.7,528.5 661.7,523.5 662.7,524.6 663.7,520.1 664.7,523.0 665.7,519.6 666.7,522.7 667.7,515.3 668.7,519.7 669.7,512.8 670.7,516.2 671.7,511.8 672.7,515.3 673.7,510.4 674.7,515.0 675.7,509.1 676.7,513.4 677.7,508.7 678.7,513.8 679.7,508.9 680.7,514.9 681.7,508.9 682.7,514.3 683.7,509.6 684.7,513.3 685.7,509.9 686.7,513.2 687.7,507.6 688.7,512.1 689.7,506.0 690.7,510.7 691.7,504.4 692.7,510.3 693.7,504.2 694.7,509.6 695.7,502.2 696.7,508.4 697.7,501.9 698.7,507.8 699.7,501.4 700.7,505.8 701.7,501.2 702.7,505.0 703.7,500.5 704.7,503.6 705.7,498.9 706.7,502.7 707.7,499.8 708.7,504.0 709.7,498.1 710.7,502.8 711.7,499.9 712.7,502.7 713.7,497.3 714.7,503.1 715.7,499.4 716.7,504.9 717.7,501.0 718.7,505.3 719.7,502.9 720.7,507.1 721.7,505.1 722.7,511.6 723.7,507.3 724.7,512.0 725.7,508.3 726.7,513.1 727.7,511.2 728.7,514.9 729.7,511.3 730.7,516.2 731.7,510.8 732.7,516.4 733.7,512.2 734.7,517.5 735.7,510.8 736.7,516.1 737.7,511.7 738.7,516.7 739.7,512.2 740.7,517.1 741.7,510.6 742.7,516.5 743.7,511.2 744.7,517.1 745.7,513.3 746.7,518.7 747.7,513.2 748.7,518.7 749.7,514.2 750.7,517.8 751.7,515.2 752.7,519.7 753.7,516.6 754.7,521.5 755.7,518.0 756.7,520.9 757.7,516.7 758.7,520.8 759.7,517.6 760.7,522.1 761.7,517.0 762.7,523.2 763.7,517.9 764.7,522.3 765.7,517.1 766.7,520.9 767.7,516.3 768.7,521.7 769.7,518.8 770.7,525.4 771.7,520.9 772.7,526.4 773.7,523.2 774.7,528.3 775.7,526.0 776.7,529.8 777.7,526.0 778.7,532.1 779.7,529.8 780.7,535.7 781.7,533.1 782.7,538.2 783.7,532.5 784.7,538.2 785.7,535.9 786.7,539.7 787.7,535.2 788.7,539.5 789.7,533.8 790.7,539.6 791.7,535.6 792.7,539.2 793.7,536.1 794.7,538.3 795.7,533.0 796.7,536.6 797.7,528.5 798.7,530.0 799.7,519.9 800.7,521.2 801.7,511.9 802.7,512.3 803.7,502.4 804.7,501.8 805.7,495.0 806.7,494.8 807.7,485.9 808.7,486.0 809.7,480.1 810.7,480.9 811.7,476.0 812.7,482.5 813.7,481.0 814.7,487.1 815.7,487.1 816.7,494.5 817.7,493.6 818.7,501.9 819.7,499.8 820.7,506.5 821.7,505.4 822.7,510.3 823.7,502.1 824.7,505.8 825.7,498.7 826.7,499.6 827.7,491.1 828.7,488.5 829.7,479.9 830.7,479.9 831.7,474.6 832.7,477.5 833.7,472.1 834.7,476.1 835.7,470.1 836.7,476.0 837.7,470.7 838.7,475.6 839.7,470.0 840.7,473.9 841.7,462.8 842.7,456.5 843.7,445.0 844.7,445.7 845.7,436.1 846.7,431.0 847.7,417.4 848.7,417.4 849.7,413.9 850.7,414.7 851.7,403.7 852.7,399.0 853.7,388.4 854.7,383.2 855.7,372.3 856.7,374.4 857.7,372.2 858.7,377.3 859.7,374.9 860.7,383.2 861.7,378.4 862.7,384.2 863.7,379.0 864.7,383.8 865.7,379.2 866.7,384.2 867.7,377.9 868.7,381.7 869.7,374.2 870.7,374.7 871.7,363.6 872.7,362.0 873.7,351.4 874.7,349.8 875.7,342.0 876.7,341.2 877.7,337.0 878.7,339.4 879.7,335.6 880.7,338.0 881.7,336.1 882.7,344.0 883.7,341.9 884.7,349.7 885.7,346.2 886.7,353.4 887.7,351.2 888.7,355.5 889.7,349.9 890.7,353.4 891.7,348.7 892.7,352.6 893.7,345.0 894.7,348.3 895.7,341.0 896.7,344.7 897.7,336.7 898.7,335.2 899.7,325.7 900.7,324.5 901.7,313.5 902.7,312.3 903.7,300.9 904.7,300.4 905.7,289.2 906.7,285.7 907.7,275.2 908.7,274.4 909.7,267.2 910.7,270.4 911.7,265.1 912.7,269.6 913.7,264.4 914.7,270.8 915.7,266.5 916.7,274.0 917.7,273.1 918.7,282.4 919.7,283.4 920.7,292.7 921.7,295.1 922.7,303.0 923.7,304.9 924.7,313.6 925.7,310.0 926.7,318.2 927.7,315.4 928.7,325.4 929.7,320.7 930.7,327.1 931.7,321.2 932.7,326.9 933.7,323.4 934.7,328.6 935.7,324.2 936.7,331.1 937.7,328.0 938.7,333.4 939.7,330.9 940.7,335.5 941.7,333.4 942.7,339.0 943.7,339.1 944.7,345.0 945.7,342.4 946.7,344.3 947.7,339.4 948.7,342.3 949.7,336.3 950.7,340.6 951.7,333.9 952.7,338.4 953.7,331.0 954.7,331.8 955.7,325.9 956.7,331.6 957.7,330.5 958.7,338.3 959.7,337.5 960.7,346.9 961.7,349.7 962.7,360.1 963.7,362.9 964.7,375.4 965.7,379.1 966.7,393.0 967.7,398.8 968.7,410.3 969.7,412.5 970.7,420.3 971.7,423.6 972.7,432.9 973.7,434.1 974.7,441.9 975.7,439.9 976.7,448.0 977.7,446.1 978.7,456.9 979.7,457.8 980.7,469.1 981.7,469.0 982.7,478.1 983.7,476.4 984.7,492.7 985.7,501.0 986.7,514.3 987.7,516.6 988.7,528.0 989.7,527.2 990.7,535.5 991.7,533.6 992.7,557.1 993.7,562.5 994.7,575.9 995.7,577.8 996.7,585.6 997.7,582.9 998.7,591.1 999.7,587.7 1000.7,597.0 1001.7,610.1 1002.7,587.8 1003.7,585.3 1004.7,595.3 1005.7,617.7 1006.7,653.9 1007.7,668.6 1008.7,678.6 1009.7,681.6 1010.7,693.3 1011.7,704.3 1012.7,728.1 1013.7,740.7 1014.7,762.8 1015.7,764.1 1016.7,774.3 1017.7,771.9 1018.7,785.2 1019.7,788.9 1020.7,807.1 1021.7,822.1 1022.7,837.7 1023.7,838.1 1024.7,846.4 1025.7,845.1 1026.7,864.9 1027.7,877.9 1028.7,898.4 1029.7,901.8 1030.7,912.0 1031.7,912.5 1032.7,946.2 1033.7,967.4 1034.7,991.7 1035.7,994.8 1036.7,1006.1 1037.7,1007.3 1038.7,1018.5 1039.7,1019.7 1040.7,1029.1 1041.7,1027.9 1042.7,1039.7 1043.7,1049.5 1044.7,1067.2 1045.7,1069.9 1046.7,1078.1 1047.7,1077.4 1048.7,1087.2 1049.7,1089.3 1050.7,1102.0 1051.7,1105.5 1052.7,1118.0 1053.7,1122.9 1054.7,1137.5 1055.7,1141.3 1056.7,1159.8 1057.7,1166.6 1058.7,1184.5 1059.7,1189.8 1060.7,1204.5 1061.7,1212.0 1062.7,1228.0 1063.7,1233.6 1064.7,1249.0 1065.7,1255.8 1066.7,1270.4 1067.7,1275.0 1068.7,1285.3 1069.7,1285.3 1070.7,1293.9 1071.7,1300.8 1072.7,1315.7 1073.7,1318.2 1074.7,1326.1 1075.7,1323.7 1076.7,1332.9 1077.7,1335.9 1078.7,1348.8 1079.7,1351.2 1080.7,1362.2 1081.7,1361.4 1082.7,1371.2 1083.7,1369.0 1084.7,1378.2 1085.7,1376.5 1086.7,1385.9 1087.7,1383.6 1088.7,1386.6 1089.7,1380.2 1090.7,1386.4 1091.7,1380.0 1092.7,1386.1 1093.7,1380.5 1094.7,1377.2 1095.7,1364.5 1096.7,1365.9 1097.7,1357.5 1098.7,1358.1 1099.7,1349.3 1100.7,1348.5 1101.7,1339.0 1102.7,1343.0 1103.7,1337.0 1104.7,1345.3 1105.7,1342.2 1106.7,1350.3 1107.7,1345.2 1108.7,1352.0 1109.7,1348.9 1110.7,1359.7 1111.7,1358.4 1112.7,1367.4 1113.7,1364.5 1114.7,1368.5 1115.7,1363.8 1116.7,1369.0 1117.7,1362.9 1118.7,1367.0 1119.7,1361.5 1120.7,1360.2 1121.7,1349.8 1122.7,1345.0 1123.7,1331.9 1124.7,1324.1 1125.7,1311.4 1126.7,1305.9 1127.7,1293.2 1128.7,1288.4 1129.7,1275.7 1130.7,1274.6 1131.7,1259.7 1132.7,1253.7 1133.7,1238.3 1134.7,1233.2 1135.7,1219.1 1136.7,1215.5 1137.7,1201.9 1138.7,1197.9 1139.7,1185.6 1140.7,1183.0 1141.7,1169.1 1142.7,1166.1 1143.7,1151.4 1144.7,1149.3 1145.7,1134.9 1146.7,1132.6 1147.7,1119.7 1148.7,1116.2 1149.7,1102.9 1150.7,1099.2 1151.7,1086.0 1152.7,1083.6 1153.7,1070.5 1154.7,1065.7 1155.7,1049.3 1156.7,1041.4 1157.7,1023.9 1158.7,1018.1 1159.7,1009.5 1160.7,1008.5 1161.7,991.6 1162.7,983.7 1163.7,970.1 1164.7,968.8 1165.7,958.1 1166.7,958.9 1167.7,950.2 1168.7,950.3 1169.7,932.5 1170.7,920.0 1171.7,910.0 1172.7,910.2 1173.7,903.9 1174.7,895.3 1175.7,875.4 1176.7,863.3 1177.7,842.8 1178.7,840.7 1179.7,830.5 1180.7,830.1 1181.7,815.8 1182.7,803.6 1183.7,790.7 1184.7,787.4 1185.7,781.9 1186.7,782.9 1187.7,776.0 1188.7,779.0 1189.7,769.1 1190.7,765.6 1191.7,760.9 1192.7,764.5 1193.7,759.8 1194.7,762.3 1195.7,747.8 1196.7,744.0 1197.7,724.1 1198.7,719.5 1199.7,708.9 1200.7,710.4 1201.7,697.5 1202.7,690.6 1203.7,672.8 1204.7,663.0 1205.7,643.7 1206.7,636.7 1207.7,617.0 1208.7,612.1 1209.7,597.4 1210.7,595.4 1211.7,582.3 1212.7,582.0 1213.7,573.5 1214.7,579.5 1215.7,575.7 1216.7,567.7 1217.7,560.9 1218.7,565.6 1219.7,560.4 1220.7,563.8 1221.7,559.6 1222.7,562.3 1223.7,558.5 1224.7,561.5 1225.7,559.2 1226.7,565.1 1227.7,560.8 1228.7,566.6 1229.7,559.8 1230.7,566.7 1231.7,559.8 1232.7,564.8 1233.7,557.1 1234.7,556.3 1235.7,545.5 1236.7,549.3 1237.7,545.0 1238.7,551.6 1239.7,549.4 1240.7,552.0 1241.7,541.3 1242.7,539.5 1243.7,532.1 1244.7,532.7 1245.7,526.1 1246.7,528.5 1247.7,521.6 1248.7,528.5 1249.7,521.4 1250.7,527.1 1251.7,519.7 1252.7,524.9 1253.7,520.5 1254.7,523.5 1255.7,521.3 1256.7,528.8 1257.7,531.0 1258.7,536.5 1259.7,531.0 1260.7,533.5 1261.7,526.8 1262.7,531.5 1263.7,526.5 1264.7,528.5 1265.7,522.0 1266.7,525.7 1267.7,521.0 1268.7,523.5 1269.7,518.0 1270.7,520.5 1271.7,513.2 1272.7,514.3 1273.7,507.6 1274.7,514.3 1275.7,510.5 1276.7,518.2 1277.7,515.0 1278.7,522.2 1279.7,520.4 1280.7,528.2 1281.7,527.4 1282.7,534.3 1283.7,533.4 1284.7,537.3 1285.7,533.6 1286.7,539.0 1287.7,533.2 1288.7,537.0 1289.7,530.6 1290.7,535.1 1291.7,528.9 1292.7,532.5 1293.7,522.9 1294.7,524.1 1295.7,512.7 1296.7,514.6 1297.7,505.5 1298.7,507.8 1299.7,501.0 1300.7,505.7 1301.7,501.3 1302.7,507.5 1303.7,504.0 1304.7,509.6 1305.7,505.3 1306.7,514.7 1307.7,511.9 1308.7,519.7 1309.7,517.2 1310.7,525.9 1311.7,525.4 1312.7,531.8 1313.7,530.3 1314.7,539.4 1315.7,537.5 1316.7,542.9 1317.7,540.2 1318.7,545.8 1319.7,541.3 1320.7,543.4 1321.7,538.5 1322.7,540.7 1323.7,535.2 1324.7,538.5 1325.7,531.0 1326.7,532.7 1327.7,526.0 1328.7,528.3 1329.7,526.7 1330.7,532.3 1331.7,525.7 1332.7,532.0 1333.7,526.0 1334.7,534.6 1335.7,530.5 1336.7,537.0 1337.7,532.6 1338.7,538.0 1339.7,534.4 1340.7,540.7 1341.7,536.6 1342.7,544.2 1343.7,539.8 1344.7,546.7 1345.7,542.5 1346.7,547.6 1347.7,543.8 1348.7,549.7 1349.7,548.5 1350.7,554.3 1351.7,551.8 1352.7,556.4 1353.7,554.5 1354.7,559.8 1355.7,555.8 1356.7,561.3 1357.7,558.2 1358.7,564.5 1359.7,561.6 1360.7,565.6 1361.7,563.0 1362.7,568.1 1363.7,565.4 1364.7,569.4 1365.7,566.8 1366.7,571.3 1367.7,567.8 1368.7,574.0 1369.7,571.0 1370.7,575.4 1371.7,572.0 1372.7,578.1 1373.7,572.6 1374.7,577.2 1375.7,572.6 1376.7,573.7 1377.7,568.6 1378.7,575.7 1379.7,571.4 1380.7,575.9 1381.7,570.5 1382.7,575.3 1383.7,571.8 1384.7,578.7 1385.7,574.1 1386.7,579.8 1387.7,576.3 1388.7,578.6 1389.7,569.4 1390.7,571.1 1391.7,563.8 1392.7,572.0 1393.7,571.8 1394.7,582.1 1395.7,581.4 1396.7,587.5 1397.7,585.8 1398.7,592.5 1399.7,591.8 1400.7,597.1 1401.7,594.6 1402.7,602.8 1403.7,599.4 1404.7,603.9 1405.7,597.4 1406.7,602.4 1407.7,605.6 1408.7,612.5 1409.7,601.9 1410.7,599.9 1411.7,590.2 1412.7,589.2 1413.7,580.0 1414.7,581.0 1415.7,571.6 1416.7,570.8 1417.7,565.5 1418.7,569.2 1419.7,565.2 1420.7,569.6 1421.7,563.6 1422.7,565.9 1423.7,560.5 1424.7,569.1 1425.7,566.6 1426.7,572.7 1427.7,568.5 1428.7,578.9 1429.7,578.4 1430.7,585.6 1431.7,582.1 1432.7,586.5 1433.7,581.8 1434.7,587.4 1435.7,579.1 1436.7,580.5 1437.7,572.7 1438.7,576.4 1439.7,569.7 1440.7,574.7 1441.7,568.4 1442.7,576.9 1443.7,575.4 1444.7,581.9 1445.7,575.2 1446.7,576.1 1447.7,569.2 1448.7,576.6 1449.7,576.4 1450.7,582.5 1451.7,576.0 1452.7,576.0 1453.7,569.7 1454.7,569.9 1455.7,560.0 1456.7,564.0 1457.7,556.4 1458.7,560.4 1459.7,553.9 1460.7,554.9 1461.7,547.6 1462.7,550.2 1463.7,547.1 1464.7,550.0 1465.7,546.4 1466.7,552.2 1467.7,552.3 1468.7,560.6 1469.7,560.2 1470.7,569.0 1471.7,563.6 1472.7,571.9 1473.7,569.2 1474.7,576.9 1475.7,574.8 1476.7,580.2 1477.7,577.8 1478.7,582.2 1479.7,579.8 1480.7,584.1 1481.7,579.6 1482.7,584.7 1483.7,577.7 1484.7,581.8 1485.7,575.5 1486.7,578.2 1487.7,573.8 1488.7,577.5 1489.7,571.1 1490.7,576.5 1491.7,570.6 1492.7,575.6 1493.7,570.3 1494.7,575.5 1495.7,569.4 1496.7,572.0 1497.7,563.9 1498.7,564.2 1499.7,556.7 1500.7,558.5 1501.7,553.0 1502.7,556.3 1503.7,550.8 1504.7,553.9 1505.7,547.4 1506.7,556.7 1507.7,553.7 1508.7,560.7 1509.7,558.0 1510.7,566.9 1511.7,564.4 1512.7,573.0 1513.7,573.8 1514.7,581.4 1515.7,582.3 1516.7,588.5 1517.7,585.1 1518.7,593.5 1519.7,588.3 1520.7,596.0 1521.7,589.1 1522.7,592.9 1523.7,585.1 1524.7,589.4 1525.7,581.5 1526.7,584.1 1527.7,576.5 1528.7,578.6 1529.7,572.4 1530.7,573.3 1531.7,567.1 1532.7,569.7 1533.7,564.6 1534.7,567.3 1535.7,560.7 1536.7,563.5 1537.7,558.0 1538.7,566.5 1539.7,561.4 1540.7,566.4 1541.7,564.2 1542.7,568.8 1543.7,564.8 1544.7,571.4 1545.7,568.0 1546.7,576.5 1547.7,571.2 1548.7,577.9 1549.7,573.5 1550.7,579.5 1551.7,574.8 1552.7,581.7 1553.7,578.1 1554.7,582.8 1555.7,578.7 1556.7,584.2 1557.7,578.5 1558.7,584.6 1559.7,576.7 1560.7,581.3 1561.7,577.2 1562.7,580.4 1563.7,576.7 1564.7,579.8 1565.7,574.9 1566.7,578.6 1567.7,573.0 1568.7,576.1 1569.7,570.5 1570.7,573.0 1571.7,567.4 1572.7,571.0 1573.7,566.5 1574.7,569.0 1575.7,563.8 1576.7,566.8 1577.7,562.2 1578.7,567.2 1579.7,562.5 1580.7,565.9 1581.7,559.6 1582.7,563.4 1583.7,556.9 1584.7,561.7 1585.7,557.1 1586.7,561.0 1587.7,557.9 1588.7,563.9 1589.7,562.9 1590.7,566.6 1591.7,564.3 1592.7,568.9 1593.7,567.0 1594.7,572.9 1595.7,570.7 1596.7,576.9 1597.7,573.9 1598.7,581.1 1599.7,576.6 1600.7,582.7 1601.7,576.8 1602.7,583.9 1603.7,579.6 1604.7,584.5 1605.7,578.9 1606.7,581.5 1607.7,575.6 1608.7,578.0 1609.7,572.6 1610.7,574.8 1611.7,568.2 1612.7,571.1 1613.7,563.4 1614.7,567.5 1615.7,560.8 1616.7,564.2 1617.7,555.9 1618.7,560.8 1619.7,554.3 1620.7,556.8 1621.7,552.7 1622.7,554.8 1623.7,551.0 1624.7,557.7 1625.7,555.1 1626.7,562.3 1627.7,558.3 1628.7,564.0 1629.7,560.7 1630.7,567.8 1631.7,565.8 1632.7,571.4 1633.7,567.5 1634.7,571.7 1635.7,569.2 1636.7,574.0 1637.7,571.1 1638.7,575.0 1639.7,569.4 1640.7,576.0 1641.7,568.5 1642.7,573.7 1643.7,566.8 1644.7,570.2 1645.7,561.9 1646.7,567.6 1647.7,561.2 1648.7,565.6 1649.7,560.5 1650.7,562.9 1651.7,556.8 1652.7,560.6 1653.7,556.1 1654.7,560.6 1655.7,556.0 1656.7,560.3 1657.7,557.6 1658.7,562.6 1659.7,559.0 1660.7,563.6 1661.7,560.6 1662.7,566.6 1663.7,563.7 1664.7,569.2 1665.7,564.0 1666.7,570.2 1667.7,565.7 1668.7,571.9 1669.7,567.6 1670.7,572.7 1671.7,567.4 1672.7,573.0 1673.7,571.0 1674.7,576.2 1675.7,571.0 1676.7,578.3 1677.7,572.7 1678.7,579.1 1679.7,575.2 1680.7,580.7 1681.7,577.5 1682.7,582.5 1683.7,577.9 1684.7,581.3 1685.7,576.0 1686.7,580.3 1687.7,574.7 1688.7,580.6 1689.7,575.0 1690.7,581.3 1691.7,575.4 1692.7,581.6 1693.7,576.8 1694.7,580.3 1695.7,576.5 1696.7,581.7 1697.7,579.6 1698.7,586.6 1699.7,584.0 1700.7,591.9 1701.7,591.6 1702.7,595.9 1703.7,593.5 1704.7,597.5 1705.7,594.2 1706.7,601.2 1707.7,597.7 1708.7,604.5 1709.7,600.4 1710.7,604.1 1711.7,600.2 1712.7,605.5 1713.7,601.5 1714.7,606.3 1715.7,600.7 1716.7,605.4 1717.7,600.8 1718.7,606.5 1719.7,603.3 1720.7,607.9 1721.7,604.2 1722.7,608.8 1723.7,603.8 1724.7,610.8 1725.7,605.0 1726.7,612.0 1727.7,606.1 1728.7,612.7 1729.7,607.0 1730.7,611.0 1731.7,607.6 1732.7,614.0 1733.7,609.1 1734.7,614.8 1735.7,611.3 1736.7,616.0 1737.7,612.3 1738.7,617.7 1739.7,616.2 1740.7,620.8 1741.7,615.6 1742.7,621.0 1743.7,616.6 1744.7,623.5 1745.7,620.8 1746.7,625.8 1747.7,622.8 1748.7,629.2 1749.7,625.5 1750.7,630.3 1751.7,626.2 1752.7,632.1 1753.7,627.8 1754.7,633.2 1755.7,629.3 1756.7,633.3 1757.7,629.5 1758.7,633.7 1759.7,630.0 1760.7,635.1 1761.7,630.4 1762.7,633.9 1763.7,627.8 1764.7,633.9 1765.7,629.2 1766.7,634.9 1767.7,629.4 1768.7,632.8 1769.7,629.0 1770.7,632.0 1771.7,629.0 1772.7,633.0 1773.7,627.8 1774.7,632.3 1775.7,628.0 1776.7,634.3 1777.7,627.1 1778.7,631.5 1779.7,625.4 1780.7,631.6 1781.7,627.5 1782.7,631.7 1783.7,626.4 1784.7,629.5 1785.7,625.3 1786.7,628.5 1787.7,624.7 1788.7,628.6 1789.7,623.7 1790.7,629.8 1791.7,623.1 1792.7,627.8 1793.7,621.6 1794.7,626.6 1795.7,621.7 1796.7,625.6 1797.7,622.3 1798.7,626.0 1799.7,619.3 1800.7,624.8 1801.7,620.4 1802.7,625.2 1803.7,620.7 1804.7,624.0 1805.7,621.1 1806.7,623.7 1807.7,617.4 1808.7,620.7 1809.7,614.6 1810.7,617.8 1811.7,611.8 1812.7,616.2 1813.7,609.2 1814.7,614.1 1815.7,607.7 1816.7,612.5 1817.7,605.7 1818.7,610.7 1819.7,605.0 1820.7,608.6 1821.7,601.9 1822.7,607.5 1823.7,601.3 1824.7,605.2 1825.7,599.8 1826.7,605.7 1827.7,599.7 1828.7,603.6 1829.7,596.8 1830.7,599.5 1831.7,595.0 1832.7,598.5 1833.7,593.5 1834.7,597.0 1835.7,590.4 1836.7,592.4 1837.7,585.2 1838.7,590.6 1839.7,586.0 1840.7,589.5 1841.7,584.5 1842.7,588.1 1843.7,581.9 1844.7,586.2 1845.7,581.2 1846.7,584.6 1847.7,578.1 1848.7,581.9 1849.7,574.8 1850.7,579.2 1851.7,574.1 1852.7,577.3 1853.7,570.7 1854.7,573.7 1855.7,566.7 1856.7,570.4 1857.7,565.6 1858.7,568.6 1859.7,563.6 1860.7,567.7 1861.7,563.0 1862.7,567.6 1863.7,561.8 1864.7,568.0 1865.7,563.6 1866.7,565.8 1867.7,560.2 1868.7,564.8 1869.7,561.8 1870.7,564.1 1871.7,559.9 1872.7,564.0 1873.7,557.9 1874.7,563.6 1875.7,558.1 1876.7,560.2 1877.7,553.9 1878.7,557.8 1879.7,552.4 1880.7,555.9 1881.7,550.4 1882.7,554.6 1883.7,549.2 1884.7,552.9 1885.7,548.4 1886.7,552.1 1887.7,547.1 1888.7,552.4 1889.7,545.0 1890.7,550.4 1891.7,543.3 1892.7,548.3 1893.7,543.9 1894.7,546.0 1895.7,539.7 1896.7,544.2 1897.7,540.0 1898.7,543.2 1899.7,537.7 1900.7,541.9 1901.7,535.2 1902.7,540.8 1903.7,535.5 1904.7,538.6 1905.7,531.5 1906.7,537.2 1907.7,529.9 1908.7,533.9 1909.7,527.1 1910.7,529.2 1911.7,524.0 1912.7,526.5 1913.7,522.2 1914.7,524.8 1915.7,519.4 1916.7,522.7 1917.7,518.1 1918.7,521.3 1919.7,514.1 1920.7,519.7 1921.7,516.5 1922.7,521.7 1923.7,518.0 1924.7,523.9 1925.7,520.7 1926.7,524.1 1927.7,519.7 1928.7,522.7 1929.7,520.2 1930.7,525.2 1931.7,520.8 1932.7,525.9 1933.7,520.6 1934.7,527.5 1935.7,522.8 1936.7,528.8 1937.7,525.0 1938.7,528.1 1939.7,521.7 1940.7,524.3 1941.7,518.0 1942.7,522.2 1943.7,516.2 1944.7,518.5 1945.7,511.2 1946.7,513.6 1947.7,509.0 1948.7,511.7 1949.7,505.7 1950.7,508.5 1951.7,502.9 1952.7,507.7 1953.7,502.5 1954.7,505.1 1955.7,499.2 1956.7,502.9 1957.7,497.8 1958.7,505.6 1959.7,500.7 1960.7,506.3 1961.7,501.6 1962.7,507.4 1963.7,503.2 1964.7,509.5 1965.7,506.6 1966.7,513.3 1967.7,508.7 1968.7,515.5 1969.7,512.5 1970.7,518.3 1971.7,516.7 1972.7,523.2 1973.7,519.5 1974.7,526.9 1975.7,520.7 1976.7,526.2 1977.7,521.1 1978.7,526.2 1979.7,521.6 1980.7,525.6 1981.7,521.1 1982.7,526.0 1983.7,519.5 1984.7,522.0 1985.7,517.1 1986.7,518.9 1987.7,514.2 1988.7,515.1 1989.7,511.0 1990.7,513.1 1991.7,508.0 1992.7,511.2 1993.7,504.7"/>
<path stroke="#f85204" stroke-width="5.5" d="M305.7,634.3 306.7,633.4 307.7,634.2 308.7,632.6 309.7,634.1 310.7,632.0 311.7,633.6 312.7,633.0 313.7,634.5 314.7,632.2 315.7,632.4 316.7,631.0 317.7,631.8 318.7,629.7 319.7,631.4 320.7,631.0 321.7,632.0 322.7,629.2 323.7,629.9 324.7,627.7 325.7,627.8 326.7,626.5 327.7,626.9 328.7,623.2 329.7,621.7 330.7,618.2 331.7,616.9 332.7,613.8 333.7,612.4 334.7,609.6 335.7,608.8 336.7,605.8 337.7,604.2 338.7,600.5 339.7,598.9 340.7,595.8 341.7,596.6 342.7,594.0 343.7,594.7 344.7,591.0 345.7,591.2 346.7,589.7 347.7,591.8 348.7,591.5 349.7,593.8 350.7,592.1 351.7,593.7 352.7,591.5 353.7,593.1 354.7,591.3 355.7,592.0 356.7,590.1 357.7,590.3 358.7,589.2 359.7,587.6 360.7,583.8 361.7,581.2 362.7,578.6 363.7,577.7 364.7,575.4 365.7,574.8 366.7,571.0 367.7,569.1 368.7,566.4 369.7,565.7 370.7,561.9 371.7,561.0 372.7,558.4 373.7,557.5 374.7,553.5 375.7,554.0 376.7,551.0 377.7,551.4 378.7,548.0 379.7,549.8 380.7,547.6 381.7,548.1 382.7,546.0 383.7,545.7 384.7,544.5 385.7,545.5 386.7,544.0 387.7,545.0 388.7,542.6 389.7,542.5 390.7,540.6 391.7,540.4 392.7,537.8 393.7,537.0 394.7,534.5 395.7,533.7 396.7,531.3 397.7,531.5 398.7,529.7 399.7,529.1 400.7,527.1 401.7,525.8 402.7,523.7 403.7,522.2 404.7,519.5 405.7,519.5 406.7,518.0 407.7,517.8 408.7,516.2 409.7,516.2 410.7,514.3 411.7,514.1 412.7,512.5 413.7,512.2 414.7,509.9 415.7,511.6 416.7,510.0 417.7,511.3 418.7,509.5 419.7,511.4 420.7,510.0 421.7,510.6 422.7,508.5 423.7,508.1 424.7,506.9 425.7,507.5 426.7,505.6 427.7,503.4 428.7,499.6 429.7,498.5 430.7,495.6 431.7,494.5 432.7,490.7 433.7,490.3 434.7,488.1 435.7,489.0 436.7,487.6 437.7,490.3 438.7,489.6 439.7,491.5 440.7,490.1 441.7,491.2 442.7,489.4 443.7,490.6 444.7,491.0 445.7,493.9 446.7,493.9 447.7,496.0 449.2,474.5 449.5,475.0 450.0,502.5 450.3,503.0 450.7,494.1 451.7,495.2 452.7,493.3 453.7,493.8 454.7,492.7 455.7,493.3 456.7,492.5 457.7,493.7 458.7,493.2 459.7,493.4 460.7,491.7 461.7,492.5 462.7,490.9 463.7,492.0 464.7,491.3 465.7,491.7 466.7,489.8 467.7,489.4 468.7,488.6 469.7,488.7 470.7,487.7 471.7,487.7 472.7,486.0 473.7,485.6 474.7,484.2 475.7,485.5 476.7,483.8 477.7,484.8 478.7,483.1 479.7,484.3 480.7,484.0 481.7,484.5 482.7,483.9 483.7,485.0 484.7,484.0 485.7,486.2 486.7,485.6 487.7,488.0 488.7,486.5 489.7,488.6 490.7,487.0 491.7,490.3 492.7,489.4 493.7,491.7 494.7,490.8 495.7,492.6 496.7,493.1 497.7,495.2 498.7,494.6 499.7,496.2 500.7,494.8 501.7,497.2 502.7,497.5 503.7,498.7 504.7,497.0 505.7,497.9 506.7,497.6 507.7,499.7 508.7,498.8 509.7,500.9 510.7,500.4 511.7,502.6 512.7,502.1 513.7,503.9 514.7,502.7 515.7,504.1 516.7,503.5 517.7,506.2 518.7,507.4 519.7,509.6 520.7,508.7 521.7,510.5 522.7,510.8 523.7,514.0 524.7,514.8 525.7,516.8 526.7,516.9 527.7,518.9 528.7,519.0 529.7,521.9 530.7,521.9 531.7,525.1 532.7,525.5 533.7,527.6 534.7,528.3 535.7,531.4 536.7,531.3 537.7,533.8 538.7,534.3 539.7,537.0 540.7,536.3 541.7,538.8 542.7,538.4 543.7,541.7 544.7,543.2 545.7,546.2 546.7,546.6 547.7,549.3 548.7,549.7 549.7,552.6 550.7,552.9 551.7,556.1 552.7,556.5 553.7,558.9 554.7,560.6 555.7,563.6 556.7,563.8 557.7,566.2 558.7,566.3 559.7,569.5 560.7,570.3 561.7,572.3 562.7,572.3 563.7,574.9 564.7,574.9 565.7,576.8 566.7,576.2 567.7,579.4 568.7,578.8 569.7,580.8 570.7,580.5 571.7,582.5 572.7,582.8 573.7,585.1 574.7,584.7 575.7,586.7 576.7,585.9 577.7,587.9 578.7,586.6 579.7,587.8 580.7,585.5 581.7,588.5 582.7,588.2 583.7,591.9 584.7,590.8 585.7,591.7 586.7,591.8 587.7,593.9 588.7,593.8 589.7,596.7 590.7,595.9 591.7,598.9 592.7,599.3 593.7,601.3 594.7,601.3 595.7,602.4 596.7,602.0 597.7,601.7 598.7,598.7 599.7,598.5 600.7,597.0 601.7,597.6 602.7,595.9 603.7,597.6 604.7,594.5 605.7,595.4 606.7,592.5 607.7,592.6 608.7,590.3 609.7,590.7 610.7,589.3 611.7,587.8 612.7,585.3 613.7,585.1 614.7,582.2 615.7,581.2 616.7,577.8 617.7,578.5 618.7,576.6 619.7,576.1 620.7,573.4 621.7,573.4 622.7,571.0 623.7,573.5 624.7,572.4 625.7,574.1 626.7,572.0 627.7,573.9 628.7,572.8 629.7,574.5 630.7,573.1 631.7,574.2 632.7,572.8 633.7,572.6 634.7,571.4 635.7,570.5 636.7,568.0 637.7,567.8 638.7,563.9 639.7,563.2 640.7,559.4 641.7,558.8 642.7,554.9 643.7,553.3 644.7,549.5 645.7,549.5 646.7,545.6 647.7,544.6 648.7,540.6 649.7,540.1 650.7,536.0 651.7,535.2 652.7,532.6 653.7,533.2 654.7,531.5 655.7,530.4 656.7,525.9 657.7,524.3 658.7,521.9 659.7,522.4 660.7,519.4 661.7,518.9 662.7,516.5 663.7,517.1 664.7,515.5 665.7,516.0 666.7,513.9 667.7,513.2 668.7,511.3 669.7,511.3 670.7,509.6 671.7,510.3 672.7,508.5 673.7,509.7 674.7,507.3 675.7,508.0 676.7,505.5 677.7,507.9 678.7,505.1 679.7,506.7 680.7,505.0 681.7,507.3 682.7,506.0 683.7,507.7 684.7,505.5 685.7,506.8 686.7,504.8 687.7,505.9 688.7,504.9 689.7,505.7 690.7,503.2 691.7,504.3 692.7,502.4 693.7,503.0 694.7,501.7 695.7,501.3 696.7,499.7 697.7,500.0 698.7,499.0 699.7,498.7 700.7,496.9 701.7,498.3 702.7,497.1 703.7,497.7 704.7,495.9 705.7,497.3 706.7,496.2 707.7,497.0 708.7,495.9 709.7,495.8 710.7,494.5 711.7,494.9 712.7,494.3 713.7,495.2 714.7,493.9 715.7,495.5 716.7,496.3 717.7,498.3 718.7,498.1 719.7,499.8 720.7,499.5 721.7,501.4 722.7,500.5 723.7,503.9 724.7,504.3 725.7,506.2 726.7,505.4 727.7,505.9 728.7,506.6 729.7,508.4 730.7,508.0 731.7,508.4 732.7,508.2 733.7,509.9 734.7,509.3 735.7,509.8 736.7,508.9 737.7,509.8 738.7,509.8 739.7,510.4 740.7,508.8 741.7,509.7 742.7,508.2 743.7,509.6 744.7,508.6 745.7,510.5 746.7,510.2 747.7,511.2 748.7,510.6 749.7,512.4 750.7,511.2 751.7,513.2 752.7,511.7 753.7,514.4 754.7,513.0 755.7,515.0 756.7,512.2 757.7,513.9 758.7,512.9 759.7,514.6 760.7,513.3 761.7,514.2 762.7,513.2 763.7,513.9 764.7,513.3 765.7,515.1 766.7,514.2 767.7,515.7 768.7,515.3 769.7,517.9 770.7,516.6 771.7,518.4 772.7,518.7 773.7,521.9 774.7,522.5 775.7,524.2 776.7,523.2 777.7,524.8 778.7,526.7 779.7,528.3 780.7,527.9 781.7,528.9 782.7,528.7 783.7,531.1 784.7,530.3 785.7,532.6 786.7,531.6 787.7,532.3 788.7,530.0 789.7,532.3 790.7,531.2 791.7,534.1 792.7,532.3 793.7,534.1 794.7,531.0 795.7,530.0 796.7,526.5 797.7,526.2 798.7,522.8 799.7,520.6 800.7,513.8 801.7,510.1 802.7,504.4 803.7,501.2 804.7,495.0 805.7,491.2 806.7,485.8 807.7,483.1 808.7,480.0 809.7,478.9 810.7,475.5 811.7,475.7 812.7,476.7 813.7,479.9 814.7,481.5 815.7,485.5 816.7,488.2 817.7,491.9 818.7,494.6 819.7,498.2 820.7,499.3 821.7,503.6 822.7,503.4 823.7,502.7 824.7,498.9 825.7,496.7 826.7,491.3 827.7,488.1 828.7,482.9 829.7,478.0 830.7,474.0 831.7,472.2 832.7,470.1 833.7,469.5 834.7,467.5 835.7,468.0 836.7,467.0 837.7,468.2 838.7,466.9 839.7,467.2 840.7,466.9 841.7,461.3 842.7,449.8 843.7,445.1 844.7,437.0 845.7,432.4 846.7,424.4 847.7,416.2 848.7,405.9 849.7,396.9 850.7,386.1 851.7,377.2 852.7,370.0 853.7,366.9 854.7,361.4 855.7,359.1 856.7,357.2 857.7,357.6 858.7,359.1 859.7,363.0 860.7,365.2 861.7,370.1 862.7,369.5 863.7,370.2 864.7,368.8 865.7,369.6 866.7,369.4 867.7,371.6 868.7,368.5 869.7,363.6 870.7,354.7 871.7,350.6 872.7,343.6 873.7,340.1 874.7,332.7 875.7,331.3 876.7,325.8 877.7,325.0 878.7,322.3 879.7,322.8 880.7,321.0 881.7,322.3 882.7,322.2 883.7,324.4 884.7,326.3 885.7,331.4 886.7,333.6 887.7,336.6 888.7,337.1 889.7,338.9 890.7,338.2 891.7,338.4 892.7,336.2 893.7,336.1 894.7,334.6 895.7,331.6 896.7,325.0 897.7,319.5 898.7,312.7 899.7,306.0 900.7,297.4 901.7,290.6 902.7,282.9 903.7,278.5 904.7,270.5 905.7,265.3 906.7,259.5 907.7,255.5 908.7,249.8 909.7,246.2 910.7,242.8 911.7,241.7 912.7,239.0 913.7,240.0 914.7,241.4 915.7,244.8 916.7,246.7 917.7,252.0 918.7,254.2 919.7,260.0 920.7,261.9 921.7,268.6 922.7,271.9 923.7,278.2 924.7,282.4 925.7,285.9 926.7,287.2 927.7,291.3 928.7,292.4 929.7,295.8 930.7,295.6 931.7,298.7 932.7,296.5 933.7,298.8 934.7,297.4 935.7,300.1 936.7,298.9 937.7,301.0 938.7,300.2 939.7,302.4 940.7,304.8 941.7,308.5 942.7,309.6 943.7,312.1 944.7,313.1 945.7,315.0 946.7,312.7 947.7,311.9 948.7,308.6 949.7,308.2 950.7,306.9 951.7,308.5 952.7,306.2 953.7,302.3 954.7,296.6 955.7,294.4 956.7,291.5 957.7,294.8 958.7,296.8 959.7,302.7 960.7,308.9 961.7,315.7 962.7,319.7 963.7,327.6 964.7,334.3 965.7,342.6 966.7,348.7 967.7,357.7 968.7,365.3 969.7,376.6 970.7,384.4 971.7,395.2 972.7,403.1 973.7,405.5 974.7,406.8 975.7,408.5 976.7,412.2 977.7,416.9 978.7,421.2 979.7,427.7 980.7,431.5 981.7,436.8 982.7,441.7 983.7,448.6 984.7,454.8 985.7,459.7 986.7,463.5 987.7,470.7 988.7,474.7 989.7,484.0 990.7,494.5 991.7,508.1 992.7,514.9 993.7,524.1 994.7,528.9 995.7,535.2 996.7,549.1 997.7,568.9 998.7,579.9 999.7,585.5 1000.7,587.9 1001.7,593.1 1002.7,621.2 1003.7,651.0 1004.7,667.2 1005.7,676.5 1006.7,683.8 1007.7,692.4 1008.7,706.8 1009.7,727.9 1010.7,744.1 1011.7,760.6 1012.7,765.9 1013.7,770.3 1014.7,772.0 1015.7,782.6 1016.7,792.4 1017.7,812.0 1018.7,822.9 1019.7,841.5 1020.7,836.2 1021.7,845.8 1022.7,848.8 1023.7,867.2 1024.7,883.5 1025.7,899.1 1026.7,904.5 1027.7,910.4 1028.7,920.2 1029.7,952.0 1030.7,973.0 1031.7,991.7 1032.7,998.0 1033.7,1005.7 1034.7,1010.9 1035.7,1018.2 1036.7,1032.8 1037.7,1056.1 1038.7,1068.2 1039.7,1078.8 1040.7,1080.5 1041.7,1085.3 1042.7,1086.3 1043.7,1091.3 1044.7,1103.2 1045.7,1118.8 1046.7,1122.8 1047.7,1129.1 1048.7,1132.1 1049.7,1141.8 1050.7,1150.0 1051.7,1164.3 1052.7,1177.4 1053.7,1192.9 1054.7,1201.1 1055.7,1208.3 1056.7,1211.4 1057.7,1239.0 1058.7,1257.6 1059.7,1268.8 1060.7,1277.3 1061.7,1284.7 1062.7,1289.3 1063.7,1296.0 1064.7,1312.0 1065.7,1328.9 1066.7,1337.3 1067.7,1339.9 1068.7,1340.3 1069.7,1347.7 1070.7,1355.3 1071.7,1365.8 1072.7,1372.2 1073.7,1380.8 1074.7,1381.3 1075.7,1382.2 1076.7,1382.8 1077.7,1398.5 1078.7,1410.7 1079.7,1417.6 1080.7,1417.8 1081.7,1419.7 1082.7,1420.6 1083.7,1425.2 1084.7,1432.2 1085.7,1440.6 1086.7,1445.3 1087.7,1444.0 1088.7,1440.5 1089.7,1439.8 1090.7,1440.2 1091.7,1445.0 1092.7,1444.9 1093.7,1438.5 1094.7,1427.3 1095.7,1418.9 1096.7,1415.1 1097.7,1415.7 1098.7,1412.4 1099.7,1410.2 1100.7,1402.1 1101.7,1400.6 1102.7,1397.4 1103.7,1400.5 1104.7,1400.5 1105.7,1403.2 1106.7,1402.3 1107.7,1403.9 1108.7,1403.0 1109.7,1409.2 1110.7,1413.6 1111.7,1419.7 1112.7,1422.3 1113.7,1423.7 1114.7,1422.6 1115.7,1423.5 1116.7,1422.0 1117.7,1423.2 1118.7,1422.4 1119.7,1417.7 1120.7,1410.0 1121.7,1405.0 1122.7,1398.0 1123.7,1392.6 1124.7,1385.3 1125.7,1380.1 1126.7,1367.9 1127.7,1358.3 1128.7,1346.1 1129.7,1336.5 1130.7,1326.4 1131.7,1316.8 1132.7,1306.6 1133.7,1296.6 1134.7,1289.6 1135.7,1284.8 1136.7,1278.5 1137.7,1271.6 1138.7,1263.5 1139.7,1256.4 1140.7,1248.2 1141.7,1241.5 1142.7,1234.6 1143.7,1228.1 1144.7,1214.9 1145.7,1203.3 1146.7,1189.5 1147.7,1180.6 1148.7,1169.9 1149.7,1160.4 1150.7,1149.9 1151.7,1142.1 1152.7,1133.5 1153.7,1127.0 1154.7,1117.4 1155.7,1106.8 1156.7,1092.4 1157.7,1081.3 1158.7,1066.4 1159.7,1055.2 1160.7,1037.0 1161.7,1021.7 1162.7,1014.3 1163.7,1011.3 1164.7,1004.4 1165.7,992.6 1166.7,977.6 1167.7,970.9 1168.7,963.7 1169.7,960.3 1170.7,955.0 1171.7,952.2 1172.7,944.4 1173.7,932.4 1174.7,912.2 1175.7,910.6 1176.7,907.1 1177.7,905.5 1178.7,890.4 1179.7,873.7 1180.7,857.3 1181.7,843.5 1182.7,836.5 1183.7,831.8 1184.7,825.5 1185.7,814.6 1186.7,797.5 1187.7,795.1 1188.7,778.5 1189.7,789.8 1190.7,774.0 1191.7,781.1 1192.7,771.9 1193.7,774.6 1194.7,758.3 1195.7,768.4 1196.7,755.2 1197.7,767.8 1198.7,749.9 1199.7,754.4 1200.7,734.0 1201.7,723.5 1202.7,715.2 1203.7,712.9 1204.7,706.5 1205.7,698.1 1206.7,683.0 1207.7,670.8 1208.7,656.9 1209.7,644.6 1210.7,631.0 1211.7,619.1 1212.7,608.4 1213.7,600.4 1214.7,588.6 1215.7,589.7 1216.7,572.2 1217.7,587.3 1218.7,568.7 1219.7,584.7 1220.7,568.7 1221.7,580.8 1222.7,565.9 1223.7,584.5 1224.7,563.6 1225.7,585.9 1226.7,567.5 1227.7,588.2 1228.7,572.4 1229.7,583.1 1230.7,572.6 1231.7,585.2 1232.7,569.4 1233.7,583.0 1234.7,561.8 1235.7,568.1 1236.7,556.1 1237.7,561.1 1238.7,549.6 1239.7,556.8 1240.7,541.4 1241.7,540.0 1242.7,523.3 1243.7,530.9 1244.7,519.6 1245.7,526.4 1246.7,514.4 1247.7,523.7 1248.7,513.9 1249.7,521.2 1250.7,512.3 1251.7,520.4 1252.7,509.7 1253.7,519.4 1254.7,508.8 1255.7,522.7 1256.7,515.1 1257.7,531.9 1258.7,523.2 1259.7,529.3 1260.7,521.5 1261.7,528.4 1262.7,519.2 1263.7,521.3 1264.7,519.0 1265.7,520.3 1266.7,516.9 1267.7,517.2 1268.7,513.0 1269.7,513.6 1270.7,509.9 1271.7,509.5 1272.7,505.3 1273.7,504.8 1274.7,502.9 1275.7,507.4 1276.7,508.3 1277.7,512.9 1278.7,513.4 1279.7,518.1 1280.7,518.6 1281.7,523.7 1282.7,525.2 1283.7,528.7 1284.7,527.3 1285.7,528.9 1286.7,527.8 1287.7,529.0 1288.7,527.5 1289.7,527.6 1290.7,525.4 1291.7,525.3 1292.7,521.8 1293.7,520.1 1294.7,513.0 1295.7,511.1 1296.7,504.3 1297.7,503.5 1298.7,496.3 1299.7,498.6 1300.7,497.5 1301.7,500.8 1302.7,498.7 1303.7,501.4 1304.7,499.4 1305.7,504.0 1306.7,504.6 1307.7,510.0 1308.7,510.1 1309.7,514.2 1310.7,515.0 1311.7,518.8 1312.7,521.3 1313.7,528.4 1314.7,530.1 1315.7,533.5 1316.7,532.9 1317.7,537.5 1318.7,536.8 1319.7,538.9 1320.7,535.2 1321.7,535.5 1322.7,532.6 1323.7,532.2 1324.7,528.0 1325.7,527.8 1326.7,523.3 1327.7,524.3 1328.7,518.8 1329.7,522.7 1330.7,520.9 1331.7,524.6 1332.7,523.5 1333.7,526.1 1334.7,525.2 1335.7,529.9 1336.7,528.2 1337.7,531.9 1338.7,530.1 1339.7,532.8 1340.7,531.8 1341.7,535.5 1342.7,535.4 1343.7,538.7 1344.7,536.9 1345.7,539.1 1346.7,538.1 1347.7,541.3 1348.7,541.4 1349.7,545.0 1350.7,543.3 1351.7,546.1 1352.7,545.6 1353.7,549.2 1354.7,548.8 1355.7,552.7 1356.7,552.3 1357.7,556.3 1358.7,555.6 1359.7,558.1 1360.7,557.5 1361.7,559.4 1362.7,559.2 1363.7,561.3 1364.7,561.1 1365.7,562.4 1366.7,562.2 1367.7,564.7 1368.7,564.1 1369.7,567.7 1370.7,566.7 1371.7,569.9 1372.7,569.7 1373.7,575.2 1374.7,575.1 1375.7,582.5 1376.7,576.8 1377.7,586.3 1378.7,576.2 1379.7,586.3 1380.7,576.6 1381.7,584.4 1382.7,576.5 1383.7,588.6 1384.7,575.7 1385.7,592.1 1386.7,580.3 1387.7,592.5 1388.7,581.7 1389.7,586.7 1390.7,572.7 1391.7,582.9 1392.7,577.7 1393.7,584.9 1394.7,585.2 1395.7,589.1 1396.7,589.5 1397.7,594.5 1398.7,593.8 1399.7,598.4 1400.7,599.3 1401.7,605.3 1402.7,606.9 1403.7,610.4 1404.7,608.5 1405.7,611.4 1406.7,615.4 1407.7,629.7 1408.7,628.6 1409.7,619.0 1410.7,605.8 1411.7,601.0 1412.7,593.0 1413.7,588.7 1414.7,582.2 1415.7,579.8 1416.7,572.5 1417.7,574.4 1418.7,572.9 1419.7,575.5 1420.7,572.1 1421.7,572.6 1422.7,569.0 1423.7,570.8 1424.7,570.5 1425.7,575.1 1426.7,576.9 1427.7,581.8 1428.7,583.5 1429.7,588.0 1430.7,588.0 1431.7,598.1 1432.7,587.7 1433.7,600.9 1434.7,587.5 1435.7,596.4 1436.7,582.7 1437.7,589.5 1438.7,578.0 1439.7,589.1 1440.7,575.5 1441.7,587.1 1442.7,579.6 1443.7,591.9 1444.7,584.5 1445.7,592.2 1446.7,577.9 1447.7,587.2 1448.7,579.4 1449.7,590.2 1450.7,588.0 1451.7,592.3 1452.7,580.4 1453.7,585.5 1454.7,572.9 1455.7,577.7 1456.7,566.9 1457.7,566.6 1458.7,561.0 1459.7,559.1 1460.7,554.1 1461.7,552.9 1462.7,549.6 1463.7,552.8 1464.7,551.1 1465.7,553.4 1466.7,551.3 1467.7,555.6 1468.7,557.1 1469.7,561.9 1470.7,563.3 1471.7,568.9 1472.7,568.5 1473.7,572.1 1474.7,571.4 1475.7,575.8 1476.7,576.3 1477.7,577.5 1478.7,576.3 1479.7,577.8 1480.7,576.2 1481.7,576.6 1482.7,574.4 1483.7,575.1 1484.7,573.1 1485.7,572.1 1486.7,570.5 1487.7,570.9 1488.7,568.6 1489.7,568.8 1490.7,567.0 1491.7,569.2 1492.7,568.0 1493.7,568.8 1494.7,568.1 1495.7,566.3 1496.7,560.7 1497.7,557.6 1498.7,553.7 1499.7,551.7 1500.7,549.3 1501.7,549.0 1502.7,545.8 1503.7,545.5 1504.7,542.6 1505.7,544.1 1506.7,543.9 1507.7,548.4 1508.7,547.9 1509.7,550.7 1510.7,550.7 1511.7,554.9 1512.7,560.4 1513.7,565.7 1514.7,569.7 1515.7,576.0 1516.7,578.8 1517.7,582.8 1518.7,584.4 1519.7,589.2 1520.7,587.7 1521.7,585.7 1522.7,581.6 1523.7,580.0 1524.7,577.2 1525.7,575.8 1526.7,570.5 1527.7,568.5 1528.7,564.0 1529.7,561.6 1530.7,557.6 1531.7,556.1 1532.7,552.8 1533.7,552.4 1534.7,549.5 1535.7,548.7 1536.7,546.8 1537.7,549.4 1538.7,550.4 1539.7,552.0 1540.7,552.9 1541.7,555.1 1542.7,555.2 1543.7,557.6 1544.7,556.8 1545.7,559.9 1546.7,559.9 1547.7,562.9 1548.7,562.2 1549.7,564.9 1550.7,564.1 1551.7,566.5 1552.7,565.0 1553.7,567.7 1554.7,567.5 1555.7,569.6 1556.7,568.3 1557.7,568.4 1558.7,567.3 1559.7,567.1 1560.7,564.6 1561.7,565.7 1562.7,564.6 1563.7,565.7 1564.7,562.8 1565.7,562.0 1566.7,560.2 1567.7,560.7 1568.7,558.8 1569.7,558.3 1570.7,554.9 1571.7,553.4 1572.7,550.7 1573.7,550.2 1574.7,548.2 1575.7,549.5 1576.7,547.0 1577.7,547.9 1578.7,546.4 1579.7,548.0 1580.7,545.8 1581.7,546.6 1582.7,543.4 1583.7,543.2 1584.7,540.9 1585.7,541.4 1586.7,539.9 1587.7,542.2 1588.7,542.7 1589.7,544.7 1590.7,544.1 1591.7,546.4 1592.7,547.3 1593.7,550.8 1594.7,551.6 1595.7,553.8 1596.7,554.2 1597.7,556.0 1598.7,556.0 1599.7,558.0 1600.7,557.1 1601.7,558.3 1602.7,557.9 1603.7,560.1 1604.7,559.1 1605.7,559.0 1606.7,555.4 1607.7,554.5 1608.7,551.0 1609.7,550.5 1610.7,546.8 1611.7,546.8 1612.7,543.8 1613.7,544.0 1614.7,540.7 1615.7,540.7 1616.7,536.9 1617.7,537.7 1618.7,536.2 1619.7,536.3 1620.7,533.4 1621.7,533.3 1622.7,531.3 1623.7,533.0 1624.7,533.0 1625.7,536.5 1626.7,536.9 1627.7,538.9 1628.7,539.2 1629.7,542.6 1630.7,543.9 1631.7,547.8 1632.7,548.1 1633.7,550.8 1634.7,552.3 1635.7,554.6 1636.7,556.9 1637.7,557.5 1638.7,557.0 1639.7,558.9 1640.7,558.7 1641.7,560.4 1642.7,556.1 1643.7,554.8 1644.7,550.7 1645.7,550.1 1646.7,547.8 1647.7,548.2 1648.7,547.1 1649.7,545.8 1650.7,544.2 1651.7,544.5 1652.7,544.3 1653.7,546.0 1654.7,544.4 1655.7,546.0 1656.7,545.3 1657.7,546.8 1658.7,545.2 1659.7,546.0 1660.7,545.7 1661.7,548.2 1662.7,549.1 1663.7,551.8 1664.7,554.0 1665.7,555.8 1666.7,554.2 1667.7,556.1 1668.7,556.1 1669.7,559.5 1670.7,559.1 1671.7,561.4 1672.7,560.0 1673.7,562.3 1674.7,561.3 1675.7,565.0 1676.7,565.7 1677.7,568.5 1678.7,567.8 1679.7,570.5 1680.7,569.4 1681.7,570.6 1682.7,569.3 1683.7,570.5 1684.7,569.8 1685.7,570.9 1686.7,569.8 1687.7,570.6 1688.7,570.0 1689.7,572.2 1690.7,573.1 1691.7,573.4 1692.7,572.0 1693.7,572.9 1694.7,572.0 1695.7,573.9 1696.7,573.2 1697.7,575.8 1698.7,576.4 1699.7,580.6 1700.7,582.1 1701.7,587.7 1702.7,588.6 1703.7,590.3 1704.7,590.8 1705.7,594.9 1706.7,596.4 1707.7,599.3 1708.7,599.4 1709.7,600.7 1710.7,600.9 1711.7,602.3 1712.7,601.7 1713.7,603.2 1714.7,602.4 1715.7,605.1 1716.7,603.8 1717.7,606.2 1718.7,603.9 1719.7,605.1 1720.7,604.3 1721.7,605.8 1722.7,605.7 1723.7,609.0 1724.7,608.5 1725.7,610.1 1726.7,610.4 1727.7,613.0 1728.7,612.2 1729.7,615.0 1730.7,614.5 1731.7,617.2 1732.7,615.6 1733.7,618.1 1734.7,616.7 1735.7,618.3 1736.7,617.6 1737.7,621.0 1738.7,620.5 1739.7,622.7 1740.7,622.2 1741.7,624.2 1742.7,623.6 1743.7,624.9 1744.7,624.5 1745.7,626.9 1746.7,626.6 1747.7,629.9 1748.7,630.1 1749.7,634.0 1750.7,634.0 1751.7,636.4 1752.7,636.5 1753.7,639.3 1754.7,638.5 1755.7,639.9 1756.7,638.9 1757.7,639.7 1758.7,639.0 1759.7,639.3 1760.7,638.8 1761.7,639.1 1762.7,638.0 1763.7,638.8 1764.7,637.3 1765.7,637.5 1766.7,636.6 1767.7,637.9 1768.7,637.2 1769.7,638.8 1770.7,638.4 1771.7,639.4 1772.7,637.6 1773.7,639.3 1774.7,637.9 1775.7,638.5 1776.7,636.5 1777.7,637.1 1778.7,636.7 1779.7,638.5 1780.7,637.2 1781.7,637.2 1782.7,634.5 1783.7,634.9 1784.7,633.9 1785.7,635.3 1786.7,632.8 1787.7,634.2 1788.7,632.8 1789.7,634.2 1790.7,631.7 1791.7,632.2 1792.7,630.0 1793.7,631.5 1794.7,630.7 1795.7,631.3 1796.7,630.0 1797.7,631.7 1798.7,629.7 1799.7,630.4 1800.7,628.2 1801.7,630.1 1802.7,629.3 1803.7,630.5 1804.7,626.9 1805.7,627.5 1806.7,625.6 1807.7,625.7 1808.7,622.9 1809.7,622.4 1810.7,619.1 1811.7,619.5 1812.7,617.3 1813.7,617.8 1814.7,616.2 1815.7,616.0 1816.7,615.0 1817.7,615.4 1818.7,613.8 1819.7,614.0 1820.7,612.4 1821.7,613.1 1822.7,610.2 1823.7,610.3 1824.7,608.9 1825.7,609.6 1826.7,608.4 1827.7,609.2 1828.7,605.9 1829.7,605.9 1830.7,602.1 1831.7,603.3 1832.7,600.7 1833.7,601.9 1834.7,598.7 1835.7,599.0 1836.7,595.4 1837.7,594.7 1838.7,592.7 1839.7,594.5 1840.7,594.3 1841.7,595.0 1842.7,592.0 1843.7,591.9 1844.7,590.1 1845.7,590.1 1846.7,587.4 1847.7,587.7 1848.7,585.3 1849.7,585.9 1850.7,583.8 1851.7,584.1 1852.7,580.9 1853.7,580.2 1854.7,577.2 1855.7,576.7 1856.7,573.6 1857.7,574.2 1858.7,571.8 1859.7,572.8 1860.7,571.3 1861.7,573.2 1862.7,571.4 1863.7,572.1 1864.7,570.2 1865.7,570.6 1866.7,568.4 1867.7,569.1 1868.7,567.7 1869.7,568.6 1870.7,566.8 1871.7,567.7 1872.7,566.4 1873.7,567.2 1874.7,565.2 1875.7,565.7 1876.7,564.0 1877.7,563.7 1878.7,561.1 1879.7,562.0 1880.7,560.5 1881.7,560.4 1882.7,558.4 1883.7,558.7 1884.7,558.1 1885.7,559.1 1886.7,556.1 1887.7,556.0 1888.7,553.6 1889.7,553.8 1890.7,552.8 1891.7,553.9 1892.7,551.4 1893.7,550.6 1894.7,548.2 1895.7,550.1 1896.7,547.9 1897.7,549.1 1898.7,545.9 1899.7,545.9 1900.7,543.9 1901.7,544.3 1902.7,542.3 1903.7,542.8 1904.7,540.6 1905.7,541.2 1906.7,538.2 1907.7,539.1 1908.7,536.6 1909.7,536.2 1910.7,533.8 1911.7,533.8 1912.7,531.9 1913.7,531.2 1914.7,528.7 1915.7,527.2 1916.7,524.0 1917.7,523.7 1918.7,522.0 1919.7,523.7 1920.7,522.0 1921.7,523.4 1922.7,522.0 1923.7,522.6 1924.7,521.2 1925.7,522.9 1926.7,523.2 1927.7,524.7 1928.7,523.1 1929.7,525.7 1930.7,524.7 1931.7,526.6 1932.7,523.8 1933.7,525.4 1934.7,525.2 1935.7,527.1 1936.7,527.0 1937.7,528.1 1938.7,526.1 1939.7,525.2 1940.7,523.2 1941.7,523.7 1942.7,521.2 1943.7,520.5 1944.7,518.1 1945.7,517.1 1946.7,514.7 1947.7,513.7 1948.7,511.3 1949.7,510.3 1950.7,507.9 1951.7,507.8 1952.7,505.5 1953.7,505.9 1954.7,503.4 1955.7,503.1 1956.7,501.1 1957.7,503.1 1958.7,502.3 1959.7,504.4 1960.7,502.9 1961.7,505.1 1962.7,506.1 1963.7,510.4 1964.7,511.4 1965.7,514.0 1966.7,514.6 1967.7,517.3 1968.7,516.9 1969.7,518.4 1970.7,518.2 1971.7,522.0 1972.7,521.9 1973.7,523.8 1974.7,523.0 1975.7,525.0 1976.7,524.9 1977.7,527.0 1978.7,526.5 1979.7,525.9 1980.7,524.3 1981.7,523.9 1982.7,522.5 1983.7,522.6 1984.7,520.5 1985.7,520.7 1986.7,518.6 1987.7,517.9 1988.7,515.4 1989.7,514.9 1990.7,512.6 1991.7,512.4 1992.7,509.5 1993.7,510.3"/>
</g>
<g font-family="'Liberation Serif', serif" fill="#262626">
<g font-size="88.8" text-anchor="middle">
<text x="306.0" y="1685.0">85</text>
<text x="728.2" y="1685.0">90</text>
<text x="1150.2" y="1685.0">95</text>
<text x="1572.2" y="1685.0">100</text>
<text x="1994.0" y="1685.0">105</text>
</g>
<g font-size="88.8" text-anchor="end">
<text x="280.6" y="114.3">1.5</text>
<text x="280.6" y="281.0">1</text>
<text x="280.6" y="447.4">0.5</text>
<text x="280.6" y="613.7">0</text>
<text x="280.6" y="780.1">-0.5</text>
<text x="280.6" y="946.4">-1</text>
<text x="280.6" y="1112.8">-1.5</text>
<text x="280.6" y="1279.1">-2</text>
<text x="280.6" y="1445.5">-2.5</text>
<text x="280.6" y="1611.4">-3</text>
</g>
<text font-size="97" text-anchor="middle" x="1149.5" y="1797">time [s]</text>
<text font-size="97" text-anchor="middle" transform="translate(113.3,832) rotate(-90)">displacement [mm]</text>
</g>
<rect x="1513" y="1144.4" width="399.1" height="374.8" fill="#fdfdfd" stroke="#141414" stroke-width="3"/>
<line x1="1513" y1="1242.5" x2="1912.1" y2="1242.5" stroke="#141414" stroke-width="3"/>
<g font-family="'Liberation Serif', serif" fill="#000000" font-size="80.2">
<text x="1712.8" y="1222.8" text-anchor="middle" font-weight="bold">Sensor</text>
<line x1="1522.5" y1="1291.5" x2="1617.2" y2="1291.5" stroke="#0072bd" stroke-width="4.9"/>
<text x="1623.5" y="1320.5">X-band</text>
<line x1="1522.5" y1="1380.7" x2="1617.2" y2="1380.7" stroke="#f85204" stroke-width="4.9"/>
<text x="1623.5" y="1409.7">Ku-band</text>
<line x1="1522.5" y1="1470.9" x2="1617.2" y2="1470.9" stroke="#57ad17" stroke-width="4.9"/>
<text x="1626.5" y="1499.9">W-band</text>
</g>
</svg>
</body></html>
